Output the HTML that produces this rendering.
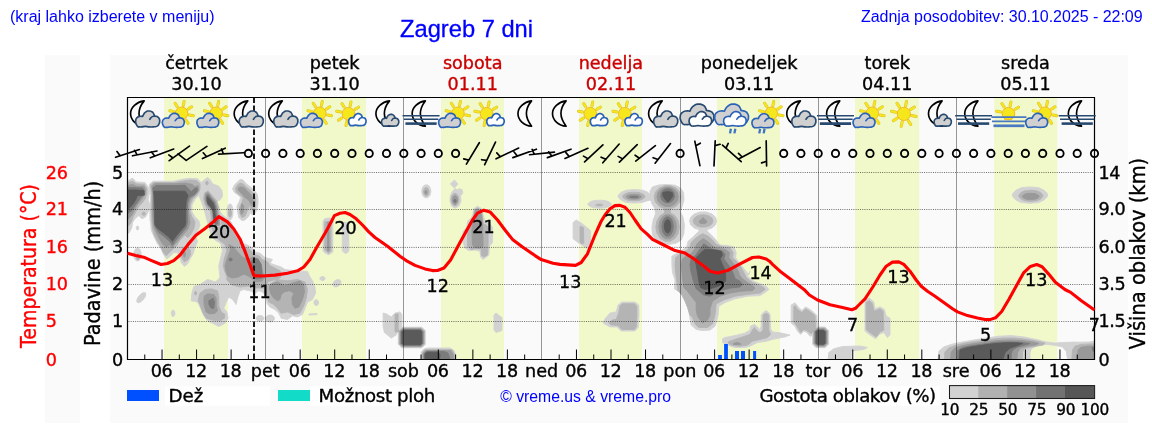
<!DOCTYPE html>
<html lang="sl"><head><meta charset="utf-8"><title>Zagreb 7 dni</title>
<style>
html,body{margin:0;padding:0;background:#fff;}
body{width:1152px;height:443px;position:relative;overflow:hidden;font-family:"Liberation Sans",Arial,sans-serif;}
.h{position:absolute;white-space:nowrap;color:#0000ff;line-height:1;}
</style></head><body>
<svg width="1152" height="443" viewBox="0 0 1152 443" style="position:absolute;left:0;top:0">
<rect x="45" y="55" width="35" height="368" fill="#fafafa"/>
<rect x="110" y="55" width="1018" height="368" fill="#fafafa"/>
<rect x="164" y="97.5" width="64" height="262.0" fill="#f1f8c9"/>
<rect x="302" y="97.5" width="64" height="262.0" fill="#f1f8c9"/>
<rect x="441" y="97.5" width="63" height="262.0" fill="#f1f8c9"/>
<rect x="579" y="97.5" width="63" height="262.0" fill="#f1f8c9"/>
<rect x="717" y="97.5" width="63" height="262.0" fill="#f1f8c9"/>
<rect x="855" y="97.5" width="64.20000000000005" height="262.0" fill="#f1f8c9"/>
<rect x="994.2" y="97.5" width="63.0" height="262.0" fill="#f1f8c9"/>
<clipPath id="pc"><rect x="127.5" y="97.5" width="967.0" height="262.0"/></clipPath>
<g id="clouds" clip-path="url(#pc)"><path d="M127.2 181.2L132.5 178.1L136.2 181.9L145.0 182.5L148.1 186.9L149.4 192.5L148.1 200.0L150.0 206.2L148.1 211.9L145.6 216.9L141.9 218.8L138.8 215.6L135.6 218.1L132.5 222.5L131.9 227.5L129.4 232.5L127.2 233.8ZM149.4 184.3L153.1 181.2L163.8 181.2L173.8 181.2L182.5 179.3L190.0 178.3L197.5 178.7L201.2 182.5L201.9 188.1L200.0 193.7L195.0 199.3L191.9 205.0L191.9 211.8L195.0 216.8L198.8 220.6L200.0 225.6L198.1 230.1L195.0 235.1L197.5 241.3L195.0 247.6L193.1 253.8L190.0 258.9L187.5 263.9L184.4 266.4L181.2 262.6L180.0 257.6L177.5 252.6L173.8 252.6L170.0 256.4L166.9 258.9L163.8 255.1L161.2 248.8L157.5 243.8L153.8 236.3L151.2 230.1L150.6 222.6L150.0 220.6L149.8 208.1L150.6 195.6L149.4 189.3ZM141.3 254.5L140.9 257.3L139.9 259.6L138.3 260.8L136.7 260.8L135.1 259.6L134.1 257.3L133.7 254.5L134.1 251.7L135.1 249.4L136.7 248.2L138.3 248.2L139.9 249.4L140.9 251.7ZM145.3 292.8L145.9 294.0L145.5 296.0L144.3 298.3L142.5 300.4L140.5 302.0L138.6 302.7L137.3 302.4L136.7 301.2L137.1 299.2L138.3 296.9L140.1 294.8L142.1 293.2L144.0 292.5ZM174.9 313.3L174.7 314.7L174.2 315.8L173.5 316.4L172.7 316.4L172.0 315.8L171.5 314.7L171.3 313.3L171.5 311.9L172.0 310.8L172.7 310.2L173.5 310.2L174.2 310.8L174.7 311.9ZM138.7 228.0L138.6 228.9L138.2 229.6L137.8 229.9L137.2 229.9L136.8 229.6L136.4 228.9L136.3 228.0L136.4 227.1L136.8 226.4L137.2 226.1L137.8 226.1L138.2 226.4L138.6 227.1ZM205.0 179.4L207.5 177.5L210.0 179.4L212.5 183.8L218.8 186.2L221.9 190.6L222.5 196.2L220.0 200.0L216.9 201.2L218.8 206.2L220.0 211.2L222.5 215.0L227.0 218.0L231.2 222.0L233.8 228.2L237.5 235.8L242.5 243.2L247.5 245.1L251.2 247.0L255.0 252.0L260.0 253.2L265.0 257.6L272.5 259.5L270.0 263.2L275.0 265.0L281.2 267.0L285.0 269.5L295.0 270.8L307.5 271.4L310.0 277.0L312.5 280.8L315.0 287.0L315.6 293.2L312.5 299.5L307.5 302.0L305.0 308.2L302.5 314.5L297.5 317.0L292.5 315.8L287.5 319.5L281.2 318.2L278.8 313.2L275.0 309.5L270.0 307.0L266.9 303.2L266.2 295.8L262.5 292.0L258.8 290.8L255.0 293.2L250.0 290.8L243.8 289.5L240.0 290.8L237.5 298.2L236.2 304.5L232.5 299.5L228.8 297.0L226.9 300.8L223.8 308.2L226.9 312.0L228.1 318.2L225.0 323.2L218.8 326.4L212.5 323.2L207.5 320.8L203.8 315.8L201.2 309.5L197.5 302.0L191.2 300.8L191.9 293.2L193.8 286.4L200.0 284.5L203.8 282.0L207.5 279.5L211.0 280.5L215.0 282.0L218.0 280.0L220.0 277.0L219.4 272.0L218.8 265.8L220.6 258.2L222.5 250.8L220.6 243.2L216.2 240.8L211.9 237.0L209.4 229.5L207.5 222.0L206.2 217.5L205.0 212.5L203.1 206.2L201.0 200.5L199.3 196.5L199.0 190.0L199.3 184.5L201.5 182.0ZM264.0 318.3L263.6 319.5L262.5 320.5L260.9 321.0L259.1 321.0L257.5 320.5L256.4 319.5L256.0 318.3L256.4 317.1L257.5 316.1L259.1 315.6L260.9 315.6L262.5 316.1L263.6 317.1ZM274.5 318.5L274.1 320.0L272.8 321.2L271.0 321.9L269.0 321.9L267.2 321.2L265.9 320.0L265.5 318.5L265.9 317.0L267.2 315.8L269.0 315.1L271.0 315.1L272.8 315.8L274.1 317.0ZM318.6 302.6L318.3 303.9L317.7 304.9L316.8 305.5L315.7 305.5L314.8 304.9L314.2 303.9L313.9 302.6L314.2 301.3L314.8 300.3L315.7 299.7L316.8 299.7L317.7 300.3L318.3 301.3ZM340.6 280.7L341.0 282.1L340.6 283.7L339.5 285.2L337.9 286.4L336.0 286.9L334.4 286.7L333.2 285.8L332.8 284.4L333.2 282.8L334.3 281.3L335.9 280.1L337.8 279.6L339.4 279.8ZM325.0 278.5L324.8 279.4L324.1 280.1L323.1 280.4L321.9 280.4L320.9 280.1L320.2 279.4L320.0 278.5L320.2 277.6L320.9 276.9L321.9 276.6L323.1 276.6L324.1 276.9L324.8 277.6ZM309.0 314.0L317.0 313.6L317.0 314.6L309.0 315.0ZM240.0 179.4L243.1 180.0L246.2 183.8L251.2 187.5L255.0 191.2L257.5 195.0L258.1 201.2L257.5 207.5L255.6 212.5L252.5 215.0L250.0 212.5L248.8 216.2L245.0 220.0L241.9 220.6L238.8 217.5L237.5 211.2L236.9 206.2L239.4 201.2L240.6 197.5L238.1 195.0L234.4 192.5L232.5 188.8L234.4 185.0L237.5 181.9ZM233.0 211.9L232.7 215.4L231.9 218.2L230.7 219.7L229.3 219.7L228.1 218.2L227.3 215.4L227.0 211.9L227.3 208.4L228.1 205.6L229.3 204.1L230.7 204.1L231.9 205.6L232.7 208.4ZM323.1 221.0L325.0 218.5L331.0 218.0L332.8 221.0L332.8 252.0L329.0 254.8L325.5 253.5L323.1 251.0ZM342.3 224.0L345.0 222.0L348.8 224.0L348.8 251.0L346.0 253.8L342.3 251.0ZM383.1 313.1L386.2 313.8L391.2 316.9L395.0 313.1L400.0 311.9L401.9 314.4L401.9 327.5L398.1 330.0L396.2 335.0L391.2 338.1L387.5 335.0L384.4 332.5L383.1 326.2ZM401.8 327.2L421.8 327.2L425.3 330.7L425.3 344.3L421.8 347.8L401.8 347.8L398.3 344.3L398.3 330.7ZM421.3 359.0L421.3 352.0L424.0 349.0L428.0 348.0L450.0 348.0L454.0 350.5L455.8 355.0L455.8 359.0ZM494.0 315.0L496.0 313.0L499.0 315.5L502.0 317.5L502.0 330.5L496.0 332.5L494.0 330.0ZM430.9 191.3L430.4 194.2L429.2 196.5L427.3 197.7L425.3 197.7L423.4 196.5L422.2 194.2L421.7 191.3L422.2 188.4L423.4 186.1L425.3 184.9L427.3 184.9L429.2 186.1L430.4 188.4ZM454.4 180.0L458.0 184.0L454.4 188.0L450.3 184.0ZM455.0 188.5L457.0 190.0L459.0 188.8L462.0 189.5L462.8 193.0L460.5 196.0L461.0 201.0L459.0 206.0L455.0 208.3L451.5 206.0L450.0 201.0L450.3 196.0L452.0 192.0ZM473.8 208.8L477.5 206.2L481.9 208.8L483.1 215.0L485.0 221.2L490.0 223.8L492.5 227.5L492.5 242.5L489.4 246.2L488.8 255.0L485.0 258.1L483.1 259.4L480.6 256.9L480.0 251.2L475.0 250.0L468.8 250.6L465.0 248.1L463.1 242.5L463.1 231.2L466.9 227.5L467.5 221.2L471.2 218.1L473.1 213.8ZM573.1 222.5L576.2 220.0L581.2 223.1L586.2 226.9L590.6 230.6L590.6 243.8L587.5 248.8L583.8 246.2L578.8 243.1L573.1 238.8ZM611.4 204.2L610.7 205.3L608.7 206.7L605.3 207.8L599.6 208.2L593.9 207.8L590.5 206.7L588.5 205.3L587.8 204.2L588.5 203.1L590.5 201.7L593.9 200.6L599.6 200.2L605.3 200.6L608.7 201.7L610.7 203.1ZM651.1 196.3L650.1 198.2L647.3 200.6L642.6 202.4L634.5 203.1L626.4 202.4L621.7 200.6L618.9 198.2L617.9 196.3L618.9 194.4L621.7 192.0L626.4 190.2L634.5 189.5L642.6 190.2L647.3 192.0L650.1 194.4ZM645.0 193.0L652.0 195.0L652.0 200.0L645.0 201.0ZM650.0 191.2L652.5 186.9L658.8 185.0L666.2 184.5L675.0 185.2L680.6 188.1L683.5 192.5L684.0 200.0L681.9 206.9L680.2 211.2L683.1 217.5L684.4 225.0L683.8 233.8L681.2 240.0L676.2 243.1L668.8 244.4L661.2 243.1L655.6 240.0L652.5 235.0L651.9 227.5L653.1 220.0L655.6 213.8L655.0 208.8L651.9 203.8L650.2 197.5ZM618.1 305.0L621.9 302.1L635.0 302.1L638.8 305.0L639.0 315.0L638.1 327.5L635.0 331.0L621.2 331.0L616.9 326.9L610.0 326.9L603.1 323.1L605.0 318.8L610.0 313.1L616.2 311.9ZM716.7 221.0L715.4 225.0L711.6 228.2L706.1 230.0L700.1 230.0L694.6 228.2L690.8 225.0L689.5 221.0L690.8 217.0L694.6 213.8L700.1 212.0L706.1 212.0L711.6 213.8L715.4 217.0ZM703.1 229.4L708.8 232.5L713.8 237.5L716.9 241.2L720.0 245.0L727.5 245.6L733.8 246.9L736.2 252.5L735.6 257.5L740.0 263.8L745.0 270.0L748.8 275.0L750.0 271.2L747.5 276.2L753.8 281.2L760.0 283.8L766.2 286.2L768.8 289.4L765.0 292.5L760.0 295.6L747.5 296.2L735.0 298.8L725.0 302.5L718.8 306.2L718.1 315.0L716.9 320.0L715.0 326.2L710.0 330.0L702.5 330.6L696.2 329.4L691.2 325.0L689.4 315.0L686.9 302.5L685.0 296.2L680.0 292.5L674.4 288.8L675.0 280.0L672.5 272.5L671.9 265.0L671.9 256.2L676.2 253.8L682.5 250.0L686.9 246.9L688.1 241.2L692.5 237.5L697.5 232.5ZM700.0 228.0L706.0 228.0L708.0 233.0L698.0 233.0ZM722.5 338.8L725.0 337.5L735.0 335.6L745.0 333.1L750.0 330.0L750.6 326.2L754.4 324.4L757.5 326.9L760.0 330.0L761.2 326.2L761.2 315.0L763.8 311.9L766.2 310.6L770.0 313.8L770.6 328.8L772.5 331.9L780.0 332.8L790.0 335.0L785.0 336.9L775.0 338.8L766.2 341.2L757.5 342.5L750.0 346.2L745.0 347.5L735.0 347.5L727.5 345.0L722.5 342.5ZM791.2 305.0L795.0 302.8L798.8 307.5L801.9 310.6L805.6 306.9L810.0 309.4L813.8 312.5L816.9 315.6L817.5 327.5L816.2 332.5L813.8 335.0L810.0 336.2L806.9 332.5L803.8 331.2L800.6 334.4L797.5 331.2L795.0 326.2L791.2 323.1ZM816.1 327.0L825.1 327.0L828.6 330.5L828.6 344.2L825.1 347.7L816.1 347.7L812.6 344.2L812.6 330.5ZM865.0 300.6L869.4 298.1L873.8 301.9L875.0 308.8L880.0 306.9L884.4 309.4L886.2 316.2L890.0 318.1L890.0 335.0L887.5 337.5L883.8 332.5L880.0 333.8L875.6 338.8L870.0 335.0L865.0 331.2ZM828.1 359.0L828.8 352.5L833.8 348.8L842.5 346.5L860.0 346.0L867.5 347.5L863.8 349.4L855.0 350.6L851.2 351.2L851.2 359.0ZM1047.8 195.1L1046.8 197.3L1043.7 200.2L1038.7 202.5L1030.0 203.3L1021.3 202.5L1016.3 200.2L1013.2 197.3L1012.2 195.1L1013.2 192.9L1016.3 190.0L1021.3 187.7L1030.0 186.9L1038.7 187.7L1043.7 190.0L1046.8 192.9ZM938.1 359.0L938.8 351.2L943.8 346.9L951.2 344.4L961.2 342.2L973.8 340.0L986.2 338.1L998.8 336.2L1011.2 335.6L1023.8 336.9L1036.2 339.4L1046.2 341.9L1055.0 343.1L1062.5 342.5L1074.0 342.1L1080.0 342.2L1090.0 341.9L1094.4 341.0L1094.4 359.0L1067.5 359.0L1066.2 351.2L1062.5 346.9L1056.2 345.6L1047.5 344.4L1037.5 345.6L1031.2 348.8L1030.0 352.5L1030.0 359.0Z" fill="#d2d2d2" stroke="#d2d2d2" stroke-width="0.9" stroke-linejoin="round"/>
<path d="M127.2 183.1L132.5 181.2L136.2 183.8L144.4 184.4L146.9 188.8L146.9 193.8L145.0 198.8L142.5 202.5L138.8 206.2L136.2 211.2L133.1 216.9L131.2 222.5L127.2 226.9ZM145.3 213.8L145.2 214.4L144.7 215.0L144.1 215.3L143.4 215.3L142.8 215.0L142.3 214.4L142.2 213.8L142.3 213.1L142.8 212.5L143.4 212.2L144.1 212.2L144.7 212.5L145.2 213.1ZM150.6 185.0L153.8 182.5L173.8 182.5L182.5 181.2L190.0 180.0L196.2 180.6L200.0 183.7L200.0 189.3L197.5 194.3L192.5 199.3L190.2 205.0L190.0 211.8L191.9 216.8L195.0 221.8L195.0 222.6L193.8 228.8L191.2 233.8L188.1 237.6L185.0 235.1L180.0 240.1L176.2 246.3L172.5 249.5L168.1 253.8L166.2 255.7L163.1 252.0L160.6 246.3L157.5 241.3L154.4 235.1L152.5 228.8L151.9 222.6L151.2 208.1L151.5 195.6ZM182.5 248.2L186.2 247.0L190.0 249.5L190.6 254.5L188.1 259.5L184.4 262.0L181.9 258.2L181.2 253.2ZM139.6 257.0L139.4 258.3L139.0 259.3L138.4 259.9L137.6 259.9L137.0 259.3L136.6 258.3L136.4 257.0L136.6 255.7L137.0 254.7L137.6 254.1L138.4 254.1L139.0 254.7L139.4 255.7ZM204.5 193.0L208.1 190.8L212.5 196.0L216.5 200.5L218.3 207.5L219.0 213.8L221.0 220.0L222.0 226.0L216.0 228.0L211.8 223.0L211.0 216.5L210.4 211.0L207.5 208.8L205.0 204.5L203.6 198.8ZM208.2 183.1L208.1 183.9L207.7 184.5L207.2 184.9L206.6 184.9L206.1 184.5L205.7 183.9L205.6 183.1L205.7 182.3L206.1 181.7L206.6 181.3L207.2 181.3L207.7 181.7L208.1 182.3ZM209.4 222.0L212.5 229.5L215.0 235.8L220.0 240.8L225.0 244.5L226.9 250.8L224.4 258.2L223.1 265.8L225.0 272.0L226.9 277.0L226.9 280.0L232.0 285.0L240.0 287.0L248.0 286.0L255.0 288.0L265.0 288.0L272.0 283.0L281.0 277.0L280.0 270.8L275.0 268.2L270.0 265.8L267.5 262.0L262.5 259.5L258.8 255.8L253.8 254.5L250.0 249.5L245.0 247.0L240.0 243.2L235.0 235.8L231.2 228.2L228.8 222.0L222.0 217.0L215.0 216.0ZM267.5 282.0L275.0 279.5L287.5 280.8L297.5 279.5L305.0 282.0L307.5 289.5L306.2 298.2L303.8 305.8L300.0 313.2L293.8 314.5L287.5 312.0L281.2 313.2L277.5 308.2L273.8 304.5L268.8 302.0L266.9 295.8L266.2 288.2ZM200.0 293.2L205.0 289.5L211.2 288.9L217.5 290.8L218.8 297.0L218.8 305.8L221.2 312.0L225.0 314.5L224.4 318.2L220.0 320.8L212.5 320.1L206.2 318.2L202.5 312.0L200.0 304.5L198.1 300.8ZM196.6 293.2L196.5 294.0L196.2 294.7L195.8 295.0L195.4 295.0L195.0 294.7L194.7 294.0L194.6 293.2L194.7 292.5L195.0 291.8L195.4 291.5L195.8 291.5L196.2 291.8L196.5 292.5ZM240.0 183.1L243.1 183.8L246.2 186.9L250.6 190.6L253.8 194.4L255.6 198.8L255.6 206.2L253.1 211.2L250.6 208.8L249.4 205.0L247.5 210.0L245.0 216.2L241.9 217.5L240.0 213.8L239.4 207.5L241.9 202.5L243.1 198.1L240.0 195.0L236.2 191.9L235.6 188.1L237.5 185.0ZM231.4 213.0L231.3 214.7L230.9 216.1L230.3 216.9L229.7 216.9L229.1 216.1L228.7 214.7L228.6 213.0L228.7 211.3L229.1 209.9L229.7 209.1L230.3 209.1L230.9 209.9L231.3 211.3ZM324.8 222.0L331.0 221.0L331.0 251.0L328.5 253.0L324.8 250.0ZM395.0 314.4L398.1 313.8L398.1 328.8L400.0 331.9L395.0 331.9ZM402.2 328.0L421.4 328.0L424.4 331.0L424.4 344.0L421.4 347.0L402.2 347.0L399.2 344.0L399.2 331.0ZM422.3 359.0L422.3 352.5L425.0 349.8L452.0 349.8L454.5 354.0L454.8 359.0ZM447.1 356.5L446.6 357.3L446.0 357.9L445.3 358.1L444.9 357.8L444.6 357.2L444.6 356.4L444.9 355.5L445.4 354.7L446.0 354.1L446.7 353.9L447.1 354.2L447.4 354.8L447.4 355.6ZM428.9 191.8L428.6 193.6L427.9 195.1L426.8 195.9L425.6 195.9L424.5 195.1L423.8 193.6L423.5 191.8L423.8 190.0L424.5 188.5L425.6 187.7L426.8 187.7L427.9 188.5L428.6 190.0ZM458.9 199.6L458.5 202.3L457.4 204.5L455.9 205.7L454.1 205.7L452.6 204.5L451.5 202.3L451.1 199.6L451.5 196.9L452.6 194.7L454.1 193.5L455.9 193.5L457.4 194.7L458.5 196.9ZM474.4 210.0L477.5 208.1L481.2 210.0L482.2 215.0L483.1 223.8L486.2 225.0L488.1 227.5L488.1 242.5L487.5 255.0L483.8 256.9L481.2 255.0L481.2 248.8L476.2 248.8L471.2 249.4L467.5 246.2L467.5 230.0L468.8 223.8L472.5 219.4L473.8 215.0ZM580.0 226.2L583.5 227.5L583.8 243.1L581.9 244.0L580.0 241.9ZM602.8 205.0L602.6 205.2L602.0 205.6L601.0 205.8L599.2 205.9L597.4 205.8L596.4 205.6L595.8 205.2L595.6 205.0L595.8 204.8L596.4 204.4L597.4 204.2L599.2 204.1L601.0 204.2L602.0 204.4L602.6 204.8ZM645.0 196.5L644.4 197.7L642.4 199.2L639.2 200.4L633.8 200.8L628.4 200.4L625.2 199.2L623.2 197.7L622.6 196.5L623.2 195.3L625.2 193.8L628.4 192.6L633.8 192.2L639.2 192.6L642.4 193.8L644.4 195.3ZM681.0 197.2L679.7 202.3L676.0 206.4L670.6 208.7L664.6 208.7L659.2 206.4L655.5 202.3L654.2 197.2L655.5 192.1L659.2 188.0L664.6 185.7L670.6 185.7L676.0 188.0L679.7 192.1ZM679.4 227.0L678.2 233.3L675.0 238.4L670.2 241.2L665.0 241.2L660.2 238.4L657.0 233.3L655.8 227.0L657.0 220.7L660.2 215.6L665.0 212.8L670.2 212.8L675.0 215.6L678.2 220.7ZM664.0 207.0L671.0 207.0L670.0 215.0L665.0 215.0ZM620.0 305.6L622.5 303.8L634.4 303.8L636.9 306.2L636.9 315.0L636.2 326.9L634.4 329.4L621.9 329.4L618.1 325.6L611.2 324.8L608.8 322.8L612.5 320.0L616.2 319.4L618.8 312.5ZM713.1 221.0L712.1 223.7L709.3 225.9L705.3 227.1L700.9 227.1L696.9 225.9L694.1 223.7L693.1 221.0L694.1 218.3L696.9 216.1L700.9 214.9L705.3 214.9L709.3 216.1L712.1 218.3ZM703.1 233.8L708.1 236.2L712.5 240.0L716.2 244.4L722.5 246.9L730.0 248.1L733.1 252.5L732.5 257.5L736.9 261.9L741.2 267.5L743.8 272.5L745.0 275.0L746.2 277.5L752.5 282.5L758.8 285.0L763.8 287.5L765.0 289.4L760.0 293.1L747.5 294.4L735.0 296.2L723.8 300.0L716.2 303.8L715.0 315.0L714.4 317.5L712.5 323.8L707.5 327.5L698.8 327.5L695.0 323.8L692.5 317.5L690.0 315.0L687.5 307.5L685.0 301.2L681.9 295.0L677.5 290.0L676.9 281.2L675.6 272.5L675.0 265.0L675.6 257.5L680.0 253.8L686.2 251.2L690.0 246.9L691.2 242.5L695.0 238.8L700.0 235.0ZM728.1 341.9L735.0 339.4L742.5 336.9L750.0 334.4L752.5 330.0L754.4 327.5L756.2 330.0L760.0 333.1L763.1 330.0L763.1 315.0L766.2 313.1L768.8 315.0L768.8 330.0L770.6 334.4L767.5 337.5L760.0 339.4L752.5 341.2L747.5 345.0L740.0 346.2L732.5 345.6L728.8 343.8ZM793.8 306.9L795.0 305.6L797.5 309.4L801.9 312.5L805.6 308.8L809.4 311.2L815.0 315.6L815.6 328.8L811.2 333.8L806.9 330.6L803.8 329.4L800.6 332.5L798.8 329.4L796.2 325.0L793.8 321.9ZM816.5 327.9L824.7 327.9L827.7 330.9L827.7 343.8L824.7 346.8L816.5 346.8L813.5 343.8L813.5 330.9ZM866.2 302.5L869.4 300.6L872.5 303.8L873.8 311.2L880.0 308.8L883.1 311.2L883.8 330.0L880.0 331.9L876.2 336.9L870.6 333.1L866.2 329.4ZM1043.0 195.8L1042.3 197.3L1040.2 199.3L1036.7 200.8L1030.8 201.4L1024.9 200.8L1021.4 199.3L1019.3 197.3L1018.6 195.8L1019.3 194.3L1021.4 192.3L1024.9 190.8L1030.8 190.2L1036.7 190.8L1040.2 192.3L1042.3 194.3ZM944.4 359.0L945.0 351.9L948.8 348.1L955.0 345.6L965.0 343.1L977.5 341.2L990.0 339.4L1002.5 338.1L1015.0 338.1L1027.5 339.4L1037.5 341.2L1045.0 343.1L1042.5 345.0L1036.2 346.2L1028.8 347.5L1023.8 348.8L1022.5 352.5L1022.5 359.0ZM1071.9 359.0L1072.5 350.0L1075.0 346.2L1081.2 344.4L1094.4 343.8L1094.4 359.0Z" fill="#b4b4b4" stroke="#b4b4b4" stroke-width="0.9" stroke-linejoin="round"/>
<path d="M127.2 185.6L132.5 184.4L136.2 186.2L143.8 186.2L145.6 190.0L145.0 194.4L142.5 198.1L140.0 201.2L136.9 205.0L134.4 210.0L131.9 215.0L127.2 220.0ZM151.9 186.2L155.0 183.7L173.8 183.7L185.0 183.1L191.9 184.3L195.0 186.8L198.1 185.6L198.8 190.6L195.0 195.0L190.6 198.7L188.8 204.3L188.5 211.8L189.4 218.1L190.0 222.6L188.1 228.8L185.0 232.6L181.2 236.3L177.5 241.3L173.8 245.1L172.5 247.6L169.4 245.1L166.2 247.6L162.5 243.8L158.8 237.6L155.6 231.3L153.5 226.3L153.1 222.6L152.5 208.1L152.8 195.6ZM183.5 252.0L185.0 251.4L185.5 254.5L184.5 257.6L183.5 255.8ZM205.6 193.8L208.1 192.5L211.2 196.9L215.0 201.2L216.9 207.5L217.5 213.8L219.4 220.0L220.0 225.0L216.2 226.2L213.1 222.5L212.5 216.2L211.9 210.0L208.8 207.5L206.2 203.8L205.0 198.8ZM228.8 244.5L230.6 249.5L226.9 259.5L225.0 265.8L226.2 272.0L228.0 276.0L232.0 278.0L238.0 277.0L244.0 274.0L250.0 277.0L256.0 282.0L262.0 281.0L265.0 277.0L262.5 272.0L261.2 264.5L257.5 259.5L252.5 257.0L247.5 259.5L242.5 257.0L237.5 252.0L233.8 247.0ZM270.0 284.5L277.5 282.0L285.0 285.8L292.5 283.2L300.0 280.8L303.8 284.5L304.4 292.0L302.5 299.5L298.8 307.0L295.0 308.2L292.5 304.5L291.9 298.2L293.8 293.2L290.0 290.8L285.0 291.4L281.2 294.5L280.0 299.5L277.5 300.8L273.8 298.2L270.6 293.2L269.4 288.2ZM204.4 295.8L207.5 293.9L213.8 294.5L216.2 298.2L216.2 305.8L217.5 310.8L215.0 313.2L210.0 313.9L206.2 312.0L204.4 305.8L203.8 300.8ZM240.0 186.9L243.8 187.5L247.5 191.2L251.2 195.0L253.1 200.0L252.5 206.2L250.6 203.8L248.8 200.0L245.0 197.5L241.9 193.8L238.8 190.6L238.1 188.1ZM241.9 203.8L243.8 206.2L243.1 212.5L241.2 214.4L240.6 210.0ZM327.6 222.0L329.0 222.0L329.0 251.0L327.6 251.0ZM402.6 328.8L421.0 328.8L423.5 331.3L423.5 343.7L421.0 346.2L402.6 346.2L400.1 343.7L400.1 331.3ZM423.3 359.0L423.3 353.0L426.0 350.6L450.5 350.6L453.0 354.0L453.5 359.0ZM427.1 192.3L427.0 193.1L426.7 193.7L426.2 194.1L425.8 194.1L425.3 193.7L425.0 193.1L424.9 192.3L425.0 191.5L425.3 190.9L425.8 190.5L426.2 190.5L426.7 190.9L427.0 191.5ZM457.6 200.0L457.3 201.9L456.6 203.4L455.6 204.3L454.4 204.3L453.4 203.4L452.7 201.9L452.4 200.0L452.7 198.1L453.4 196.6L454.4 195.7L455.6 195.7L456.6 196.6L457.3 198.1ZM475.0 211.2L477.5 209.4L480.6 211.2L481.9 217.5L482.5 223.8L483.1 246.2L480.0 248.1L475.0 247.5L472.5 245.0L471.9 230.0L472.5 223.8L474.0 217.5ZM641.4 196.8L641.0 197.5L639.7 198.3L637.5 199.0L633.8 199.2L630.1 199.0L627.9 198.3L626.6 197.5L626.2 196.8L626.6 196.1L627.9 195.3L630.1 194.6L633.8 194.4L637.5 194.6L639.7 195.3L641.0 196.1ZM678.2 196.8L677.2 201.1L674.2 204.5L670.0 206.4L665.2 206.4L661.0 204.5L658.0 201.1L657.0 196.8L658.0 192.5L661.0 189.1L665.2 187.2L670.0 187.2L674.2 189.1L677.2 192.5ZM676.4 226.8L675.5 232.1L673.1 236.4L669.6 238.8L665.6 238.8L662.1 236.4L659.7 232.1L658.8 226.8L659.7 221.5L662.1 217.2L665.6 214.8L669.6 214.8L673.1 217.2L675.5 221.5ZM703.0 217.6L707.0 221.5L705.5 223.6L700.5 223.6L699.0 221.5ZM703.1 238.8L707.5 241.2L711.2 245.0L716.2 248.1L725.0 249.4L729.4 252.5L728.8 257.5L732.5 262.5L736.2 267.5L738.8 272.5L739.4 275.0L742.5 278.8L747.5 282.5L752.5 285.6L755.0 288.1L752.5 290.6L741.2 291.2L730.0 293.1L720.0 296.2L712.5 301.2L710.0 308.8L710.0 315.0L707.5 320.0L702.5 323.1L697.5 316.2L696.2 310.0L696.2 302.5L691.2 296.2L687.5 291.2L683.8 287.5L682.5 277.5L681.2 265.0L682.5 258.8L686.2 256.2L691.2 253.8L695.0 248.8L696.2 245.0L698.8 241.9ZM733.5 343.5L736.9 342.5L740.6 343.5L740.6 344.5L733.5 344.5ZM816.9 328.8L824.3 328.8L826.8 331.3L826.8 343.4L824.3 345.9L816.9 345.9L814.4 343.4L814.4 331.3ZM1039.2 196.4L1038.7 197.2L1037.3 198.3L1034.9 199.2L1030.8 199.5L1026.7 199.2L1024.3 198.3L1022.9 197.2L1022.4 196.4L1022.9 195.6L1024.3 194.5L1026.7 193.6L1030.8 193.3L1034.9 193.6L1037.3 194.5L1038.7 195.6ZM950.6 359.0L951.2 351.9L955.0 348.1L962.5 345.6L972.5 343.8L985.0 341.9L997.5 340.6L1010.0 340.0L1022.5 340.6L1032.5 341.9L1038.8 343.5L1035.0 345.0L1027.5 346.2L1020.0 348.1L1017.5 352.5L1016.9 359.0ZM1077.5 359.0L1078.1 350.0L1081.2 347.2L1087.5 346.2L1094.4 346.0L1094.4 359.0Z" fill="#999999" stroke="#999999" stroke-width="0.9" stroke-linejoin="round"/>
<path d="M127.2 187.5L132.5 187.5L142.5 188.1L144.4 191.2L143.1 195.0L140.0 198.1L137.5 201.9L134.4 206.2L131.9 210.6L127.2 213.8ZM152.8 188.1L156.2 185.6L173.8 185.6L185.0 185.3L188.8 189.3L191.2 191.8L195.0 188.1L197.5 188.1L196.9 191.8L193.8 195.0L189.4 197.5L187.5 203.1L187.2 211.8L187.5 222.6L186.2 227.6L183.1 231.3L178.8 236.3L175.0 241.3L172.5 245.1L169.4 241.3L163.8 236.3L158.8 232.6L155.6 227.6L154.4 222.6L153.8 208.1L153.8 195.6ZM206.6 195.5L208.5 194.8L211.0 198.4L214.2 202.5L215.8 207.5L216.3 213.8L217.8 220.0L217.5 224.0L215.5 224.5L213.8 220.0L213.2 213.0L212.4 208.5L209.4 206.0L207.2 202.5L206.2 198.8ZM232.3 259.5L232.1 260.1L231.7 260.6L231.0 260.9L230.2 260.9L229.5 260.6L229.1 260.1L228.9 259.5L229.1 258.9L229.5 258.4L230.2 258.1L231.0 258.1L231.7 258.4L232.1 258.9ZM254.0 258.0L258.0 259.0L261.0 264.0L262.0 272.0L262.0 278.0L256.0 279.0L252.0 275.0L250.0 268.0L251.0 262.0ZM208.8 300.8L213.1 298.2L214.4 302.0L213.8 308.2L211.2 308.2L209.0 304.5ZM403.0 329.6L420.6 329.6L422.6 331.6L422.6 343.4L420.6 345.4L403.0 345.4L401.0 343.4L401.0 331.6ZM424.2 359.0L424.2 353.5L426.5 351.4L444.0 351.4L448.0 353.0L450.0 359.0ZM456.1 200.8L456.0 201.5L455.7 202.1L455.2 202.4L454.8 202.4L454.3 202.1L454.0 201.5L453.9 200.8L454.0 200.1L454.3 199.5L454.8 199.2L455.2 199.2L455.7 199.5L456.0 200.1ZM638.3 197.0L638.1 197.2L637.3 197.5L636.1 197.7L634.0 197.8L631.9 197.7L630.7 197.5L629.9 197.2L629.7 197.0L629.9 196.8L630.7 196.5L631.9 196.3L634.0 196.2L636.1 196.3L637.3 196.5L638.1 196.8ZM674.6 195.8L673.9 198.9L672.0 201.4L669.2 202.8L666.0 202.8L663.2 201.4L661.3 198.9L660.6 195.8L661.3 192.7L663.2 190.2L666.0 188.8L669.2 188.8L672.0 190.2L673.9 192.7ZM673.3 226.5L672.7 230.8L671.2 234.2L668.9 236.1L666.3 236.1L664.0 234.2L662.5 230.8L661.9 226.5L662.5 222.2L664.0 218.8L666.3 216.9L668.9 216.9L671.2 218.8L672.7 222.2ZM703.8 243.8L710.0 248.1L716.2 250.6L722.5 251.2L725.0 254.4L723.8 258.8L727.5 263.8L731.2 268.8L733.8 275.0L735.0 278.8L740.0 281.2L742.5 284.4L740.0 286.9L730.0 288.1L722.5 290.0L715.0 293.8L710.0 296.2L703.8 295.0L700.0 291.9L696.2 288.8L693.8 282.5L691.2 272.5L690.0 265.0L691.2 258.8L695.0 256.2L697.5 252.5L701.2 247.5ZM817.3 329.7L823.9 329.7L825.9 331.7L825.9 343.0L823.9 345.0L817.3 345.0L815.3 343.0L815.3 331.7ZM956.9 359.0L957.5 350.6L962.5 347.5L972.5 345.6L985.0 343.8L997.5 342.2L1010.0 341.9L1020.0 342.2L1030.0 343.5L1025.0 345.0L1017.5 346.9L1012.5 350.0L1011.2 353.8L1011.2 359.0ZM1092.2 347.5L1094.4 347.2L1094.4 351.5L1092.8 351.0Z" fill="#7b7b7b" stroke="#7b7b7b" stroke-width="0.9" stroke-linejoin="round"/>
<path d="M127.2 190.0L135.0 190.0L143.8 190.6L144.4 195.0L140.0 195.6L137.5 195.0L135.6 200.0L133.1 203.8L130.0 207.5L127.2 209.4ZM153.8 191.2L173.8 191.2L185.0 191.2L188.1 195.6L186.2 200.6L185.6 208.1L185.6 222.6L185.0 225.7L181.2 230.1L176.9 235.1L173.1 240.1L172.5 241.3L168.8 237.0L162.5 232.0L157.5 228.2L155.0 225.1L154.8 222.6L154.8 208.1ZM207.5 196.9L210.0 199.4L213.1 203.1L214.4 207.5L215.0 213.8L216.2 220.0L215.0 222.5L213.8 217.5L213.1 211.2L210.6 206.9L208.1 204.4L207.1 200.0ZM403.0 330.5L420.6 330.5L421.6 331.5L421.6 343.6L420.6 344.6L403.0 344.6L402.0 343.6L402.0 331.5ZM425.0 359.0L425.0 354.0L427.0 352.2L438.5 352.2L440.0 355.0L439.5 359.0ZM662.8 192.5L667.5 191.5L672.2 192.5L672.8 196.2L670.0 200.0L667.8 202.2L665.6 200.0L663.1 196.2ZM670.8 226.3L670.5 229.3L669.6 231.6L668.3 232.9L666.9 232.9L665.6 231.6L664.7 229.3L664.4 226.3L664.7 223.3L665.6 221.0L666.9 219.7L668.3 219.7L669.6 221.0L670.5 223.3ZM705.0 249.4L716.2 250.0L721.2 251.2L722.5 255.0L720.0 258.8L722.5 265.0L725.0 270.0L725.6 275.0L725.6 281.2L720.0 285.6L712.5 288.1L705.0 289.4L700.6 287.5L698.8 281.2L697.5 272.5L696.2 265.0L695.0 260.0L697.5 256.2L702.5 251.2ZM817.2 330.6L824.0 330.6L825.0 331.6L825.0 343.2L824.0 344.2L817.2 344.2L816.2 343.2L816.2 331.6ZM959.4 359.0L960.0 350.0L967.5 347.5L980.0 345.6L992.5 343.8L1005.0 342.8L1017.5 342.8L1022.5 343.5L1017.5 345.6L1010.0 348.1L1005.0 352.5L1003.1 359.0Z" fill="#5a5a5a" stroke="#5a5a5a" stroke-width="0.9" stroke-linejoin="round"/></g>
<line x1="128.5" x2="1093.0" y1="172.5" y2="172.5" stroke="#000" stroke-opacity="0.56" stroke-width="1" stroke-dasharray="1 1.21"/>
<line x1="128.5" x2="1093.0" y1="209.5" y2="209.5" stroke="#000" stroke-opacity="0.56" stroke-width="1" stroke-dasharray="1 1.21"/>
<line x1="128.5" x2="1093.0" y1="247.4" y2="247.4" stroke="#000" stroke-opacity="0.56" stroke-width="1" stroke-dasharray="1 1.21"/>
<line x1="128.5" x2="1093.0" y1="284.5" y2="284.5" stroke="#000" stroke-opacity="0.56" stroke-width="1" stroke-dasharray="1 1.21"/>
<line x1="128.5" x2="1093.0" y1="321.5" y2="321.5" stroke="#000" stroke-opacity="0.56" stroke-width="1" stroke-dasharray="1 1.21"/>
<line x1="265.5" x2="265.5" y1="97.5" y2="359.5" stroke="#000" stroke-opacity="0.4" stroke-width="1"/>
<line x1="403.5" x2="403.5" y1="97.5" y2="359.5" stroke="#000" stroke-opacity="0.4" stroke-width="1"/>
<line x1="541.5" x2="541.5" y1="97.5" y2="359.5" stroke="#000" stroke-opacity="0.4" stroke-width="1"/>
<line x1="680.5" x2="680.5" y1="97.5" y2="359.5" stroke="#000" stroke-opacity="0.4" stroke-width="1"/>
<line x1="818.5" x2="818.5" y1="97.5" y2="359.5" stroke="#000" stroke-opacity="0.4" stroke-width="1"/>
<line x1="956.5" x2="956.5" y1="97.5" y2="359.5" stroke="#000" stroke-opacity="0.4" stroke-width="1"/>
<line x1="254" x2="254" y1="97.5" y2="359.5" stroke="#111" stroke-width="1.9" stroke-dasharray="5.5 2.5" stroke-dashoffset="0"/>
<g id="rain"><rect x="718.1" y="355" width="3.8" height="4" fill="#0050ff"/>
<rect x="724.1" y="344" width="3.8" height="15" fill="#0050ff"/>
<rect x="735" y="351" width="4" height="8" fill="#0050ff"/>
<rect x="741" y="351" width="4" height="8" fill="#0050ff"/>
<rect x="753.1" y="351" width="3" height="8" fill="#0050ff"/></g>
<line x1="144.77" x2="144.77" y1="359.5" y2="354.5" stroke="#000" stroke-width="1"/>
<line x1="162.04" x2="162.04" y1="359.5" y2="349.5" stroke="#000" stroke-width="1"/>
<line x1="179.30" x2="179.30" y1="359.5" y2="354.5" stroke="#000" stroke-width="1"/>
<line x1="196.57" x2="196.57" y1="359.5" y2="349.5" stroke="#000" stroke-width="1"/>
<line x1="213.84" x2="213.84" y1="359.5" y2="354.5" stroke="#000" stroke-width="1"/>
<line x1="231.11" x2="231.11" y1="359.5" y2="349.5" stroke="#000" stroke-width="1"/>
<line x1="248.38" x2="248.38" y1="359.5" y2="354.5" stroke="#000" stroke-width="1"/>
<line x1="282.91" x2="282.91" y1="359.5" y2="354.5" stroke="#000" stroke-width="1"/>
<line x1="300.18" x2="300.18" y1="359.5" y2="349.5" stroke="#000" stroke-width="1"/>
<line x1="317.45" x2="317.45" y1="359.5" y2="354.5" stroke="#000" stroke-width="1"/>
<line x1="334.71" x2="334.71" y1="359.5" y2="349.5" stroke="#000" stroke-width="1"/>
<line x1="351.98" x2="351.98" y1="359.5" y2="354.5" stroke="#000" stroke-width="1"/>
<line x1="369.25" x2="369.25" y1="359.5" y2="349.5" stroke="#000" stroke-width="1"/>
<line x1="386.52" x2="386.52" y1="359.5" y2="354.5" stroke="#000" stroke-width="1"/>
<line x1="421.05" x2="421.05" y1="359.5" y2="354.5" stroke="#000" stroke-width="1"/>
<line x1="438.32" x2="438.32" y1="359.5" y2="349.5" stroke="#000" stroke-width="1"/>
<line x1="455.59" x2="455.59" y1="359.5" y2="354.5" stroke="#000" stroke-width="1"/>
<line x1="472.86" x2="472.86" y1="359.5" y2="349.5" stroke="#000" stroke-width="1"/>
<line x1="490.12" x2="490.12" y1="359.5" y2="354.5" stroke="#000" stroke-width="1"/>
<line x1="507.39" x2="507.39" y1="359.5" y2="349.5" stroke="#000" stroke-width="1"/>
<line x1="524.66" x2="524.66" y1="359.5" y2="354.5" stroke="#000" stroke-width="1"/>
<line x1="559.20" x2="559.20" y1="359.5" y2="354.5" stroke="#000" stroke-width="1"/>
<line x1="576.46" x2="576.46" y1="359.5" y2="349.5" stroke="#000" stroke-width="1"/>
<line x1="593.73" x2="593.73" y1="359.5" y2="354.5" stroke="#000" stroke-width="1"/>
<line x1="611.00" x2="611.00" y1="359.5" y2="349.5" stroke="#000" stroke-width="1"/>
<line x1="628.27" x2="628.27" y1="359.5" y2="354.5" stroke="#000" stroke-width="1"/>
<line x1="645.54" x2="645.54" y1="359.5" y2="349.5" stroke="#000" stroke-width="1"/>
<line x1="662.80" x2="662.80" y1="359.5" y2="354.5" stroke="#000" stroke-width="1"/>
<line x1="697.34" x2="697.34" y1="359.5" y2="354.5" stroke="#000" stroke-width="1"/>
<line x1="714.61" x2="714.61" y1="359.5" y2="349.5" stroke="#000" stroke-width="1"/>
<line x1="731.88" x2="731.88" y1="359.5" y2="354.5" stroke="#000" stroke-width="1"/>
<line x1="749.14" x2="749.14" y1="359.5" y2="349.5" stroke="#000" stroke-width="1"/>
<line x1="766.41" x2="766.41" y1="359.5" y2="354.5" stroke="#000" stroke-width="1"/>
<line x1="783.68" x2="783.68" y1="359.5" y2="349.5" stroke="#000" stroke-width="1"/>
<line x1="800.95" x2="800.95" y1="359.5" y2="354.5" stroke="#000" stroke-width="1"/>
<line x1="835.48" x2="835.48" y1="359.5" y2="354.5" stroke="#000" stroke-width="1"/>
<line x1="852.75" x2="852.75" y1="359.5" y2="349.5" stroke="#000" stroke-width="1"/>
<line x1="870.02" x2="870.02" y1="359.5" y2="354.5" stroke="#000" stroke-width="1"/>
<line x1="887.29" x2="887.29" y1="359.5" y2="349.5" stroke="#000" stroke-width="1"/>
<line x1="904.55" x2="904.55" y1="359.5" y2="354.5" stroke="#000" stroke-width="1"/>
<line x1="921.82" x2="921.82" y1="359.5" y2="349.5" stroke="#000" stroke-width="1"/>
<line x1="939.09" x2="939.09" y1="359.5" y2="354.5" stroke="#000" stroke-width="1"/>
<line x1="973.62" x2="973.62" y1="359.5" y2="354.5" stroke="#000" stroke-width="1"/>
<line x1="990.89" x2="990.89" y1="359.5" y2="349.5" stroke="#000" stroke-width="1"/>
<line x1="1008.16" x2="1008.16" y1="359.5" y2="354.5" stroke="#000" stroke-width="1"/>
<line x1="1025.43" x2="1025.43" y1="359.5" y2="349.5" stroke="#000" stroke-width="1"/>
<line x1="1042.70" x2="1042.70" y1="359.5" y2="354.5" stroke="#000" stroke-width="1"/>
<line x1="1059.96" x2="1059.96" y1="359.5" y2="349.5" stroke="#000" stroke-width="1"/>
<line x1="1077.23" x2="1077.23" y1="359.5" y2="354.5" stroke="#000" stroke-width="1"/>
<path d="M127.5 359.5 V97.5 H1094.5 V359.5 Z" fill="none" stroke="#000" stroke-width="1.2"/>
<g id="temp"><path d="M127.5 253.3 L135.8 255.6 L143.7 257.2 L151.6 260.6 L161.1 264.5 L167.4 263.5 L173.7 260.6 L180.1 255.0 L188.0 244.6 L195.9 235.2 L205.4 228.2 L213.3 221.9 L218.8 216.6 L227.5 221.9 L233.8 229.0 L240.1 239.2 L244.9 251.1 L249.6 263.7 L254.0 275.6 L262.5 276.0 L275.0 275.1 L287.5 273.2 L297.5 270.8 L303.8 267.0 L310.0 259.5 L316.2 248.2 L325.0 233.2 L331.2 222.0 L334.4 215.6 L340.0 213.3 L345.0 212.5 L350.0 214.5 L356.2 218.8 L362.5 225.0 L368.8 231.9 L375.0 237.5 L387.5 246.2 L400.0 256.2 L406.2 260.6 L415.0 265.4 L425.0 268.9 L432.5 270.6 L437.5 270.5 L444.0 268.0 L450.6 260.0 L460.0 242.5 L466.2 231.2 L472.5 220.0 L477.5 213.1 L483.8 210.2 L490.0 211.9 L497.5 220.0 L505.0 230.0 L512.5 239.4 L522.5 246.9 L535.0 255.6 L541.2 259.6 L553.0 263.2 L560.0 264.4 L575.6 265.4 L581.2 262.5 L587.5 253.8 L595.0 235.0 L601.2 221.2 L605.0 215.0 L610.0 208.8 L615.0 205.6 L620.0 205.4 L625.0 207.2 L630.0 212.5 L635.0 220.0 L641.2 228.8 L647.5 234.4 L652.5 239.4 L663.8 245.0 L675.0 250.6 L685.0 253.1 L693.8 258.8 L704.0 266.2 L710.0 271.2 L717.5 273.1 L727.5 270.6 L740.0 263.8 L752.5 257.5 L758.8 257.0 L766.2 258.9 L769.5 261.2 L772.5 264.3 L780.0 271.2 L790.0 278.8 L804.0 289.4 L809.4 295.0 L817.5 300.0 L830.0 304.8 L842.5 307.5 L851.9 309.8 L855.5 308.3 L858.8 305.0 L865.0 298.8 L872.5 287.5 L880.0 275.0 L886.2 266.2 L892.5 262.1 L898.8 261.9 L903.8 264.4 L910.0 271.2 L916.2 280.0 L921.2 286.2 L927.5 291.2 L935.0 296.2 L943.8 302.5 L952.5 308.8 L957.5 311.9 L967.5 315.6 L977.5 318.1 L985.0 319.6 L990.0 319.6 L995.5 317.8 L1001.7 311.5 L1009.1 299.0 L1016.4 285.8 L1023.8 272.6 L1030.4 266.4 L1036.7 264.5 L1042.1 266.7 L1048.7 274.1 L1055.4 282.2 L1064.9 289.5 L1070.7 292.4 L1081.0 300.5 L1094.5 310.0" fill="none" stroke="#ff0000" stroke-width="3.1" stroke-linejoin="round" stroke-linecap="butt"/>
<text x="161.9" y="286.25" text-anchor="middle" stroke="#000" stroke-width="0.34" style="font-family:'DejaVu Sans','Liberation Sans',sans-serif;font-size:17.6px">13</text>
<text x="219.1" y="237.6" text-anchor="middle" stroke="#000" stroke-width="0.34" style="font-family:'DejaVu Sans','Liberation Sans',sans-serif;font-size:17.6px">20</text>
<text x="259.4" y="297.6" text-anchor="middle" stroke="#000" stroke-width="0.34" style="font-family:'DejaVu Sans','Liberation Sans',sans-serif;font-size:17.6px">11</text>
<text x="345.6" y="233.75" text-anchor="middle" stroke="#000" stroke-width="0.34" style="font-family:'DejaVu Sans','Liberation Sans',sans-serif;font-size:17.6px">20</text>
<text x="437.8" y="292" text-anchor="middle" stroke="#000" stroke-width="0.34" style="font-family:'DejaVu Sans','Liberation Sans',sans-serif;font-size:17.6px">12</text>
<text x="483.4" y="232.75" text-anchor="middle" stroke="#000" stroke-width="0.34" style="font-family:'DejaVu Sans','Liberation Sans',sans-serif;font-size:17.6px">21</text>
<text x="570.2" y="287.5" text-anchor="middle" stroke="#000" stroke-width="0.34" style="font-family:'DejaVu Sans','Liberation Sans',sans-serif;font-size:17.6px">13</text>
<text x="615.6" y="226.9" text-anchor="middle" stroke="#000" stroke-width="0.34" style="font-family:'DejaVu Sans','Liberation Sans',sans-serif;font-size:17.6px">21</text>
<text x="714.4" y="294" text-anchor="middle" stroke="#000" stroke-width="0.34" style="font-family:'DejaVu Sans','Liberation Sans',sans-serif;font-size:17.6px">12</text>
<text x="760.6" y="278.75" text-anchor="middle" stroke="#000" stroke-width="0.34" style="font-family:'DejaVu Sans','Liberation Sans',sans-serif;font-size:17.6px">14</text>
<text x="852.5" y="330.6" text-anchor="middle" stroke="#000" stroke-width="0.34" style="font-family:'DejaVu Sans','Liberation Sans',sans-serif;font-size:17.6px">7</text>
<text x="898.4" y="282.8" text-anchor="middle" stroke="#000" stroke-width="0.34" style="font-family:'DejaVu Sans','Liberation Sans',sans-serif;font-size:17.6px">13</text>
<text x="985.6" y="340.6" text-anchor="middle" stroke="#000" stroke-width="0.34" style="font-family:'DejaVu Sans','Liberation Sans',sans-serif;font-size:17.6px">5</text>
<text x="1036.2" y="286.25" text-anchor="middle" stroke="#000" stroke-width="0.34" style="font-family:'DejaVu Sans','Liberation Sans',sans-serif;font-size:17.6px">13</text>
<text x="1094.4" y="330.6" text-anchor="middle" stroke="#000" stroke-width="0.34" style="font-family:'DejaVu Sans','Liberation Sans',sans-serif;font-size:17.6px">7</text></g>
<g id="icons"><path d="M144.17 100.90 C136.37 102.00 130.57 107.25 130.57 113.60 C130.57 119.95 136.37 125.90 144.17 126.30 C140.50 121.22 139.00 117.41 139.00 113.60 C139.00 109.16 140.50 105.34 144.17 100.90Z" fill="#fbfbfb" stroke="#000" stroke-width="1.65" stroke-linejoin="round"/><path d="M137.84 126.60C136.63 125.53 136.76 125.80 136.07 123.70C135.38 121.60 135.43 122.30 135.77 120.30C136.11 118.30 135.77 119.00 137.08 117.70C138.39 116.40 137.85 116.80 139.70 116.40C141.55 116.00 141.65 116.47 142.63 116.50C143.05 115.63 142.71 115.50 143.89 113.90C145.06 112.30 144.53 112.67 146.16 111.70C147.79 110.73 146.89 111.00 148.78 111.00C150.66 111.00 150.16 110.73 151.80 111.70C153.45 112.67 152.88 112.47 153.72 113.90C154.56 115.33 154.12 115.30 154.32 116.00C155.26 116.20 155.58 115.80 157.15 116.60C158.71 117.40 158.17 116.90 159.01 118.40C159.85 119.90 159.68 119.23 159.67 121.10C159.65 122.97 159.80 122.33 158.96 124.00C158.12 125.67 158.76 125.17 157.15 126.10C155.53 127.03 156.64 126.53 154.12 126.80C151.60 127.07 152.54 127.03 149.58 126.90C146.63 126.77 147.77 126.40 145.25 126.40C142.73 126.40 143.87 126.73 142.02 126.90C140.17 127.07 141.10 127.00 139.70 126.90C138.31 126.80 139.05 127.67 137.84 126.60Z" fill="#d0d0d0" stroke="#27496f" stroke-width="1.65" stroke-linejoin="round"/><path d="M154.32 116.00 C152.51 116.20 150.69 117.50 149.79 119.30" fill="none" stroke="#27496f" stroke-width="1.65" stroke-linecap="round"/>
<path d="M189.43 114.96L193.34 115.79M185.96 120.01L188.14 123.36M179.94 121.13L179.11 125.04M174.89 117.66L171.54 119.84M173.78 111.64L169.87 110.81M177.25 106.59L175.07 103.24M183.27 105.47L184.10 101.56M188.31 108.94L191.67 106.76" stroke="#dcbd2c" stroke-width="3.0" stroke-linecap="round" fill="none"/><path d="M189.43 114.96L193.34 115.79M185.96 120.01L188.14 123.36M179.94 121.13L179.11 125.04M174.89 117.66L171.54 119.84M173.78 111.64L169.87 110.81M177.25 106.59L175.07 103.24M183.27 105.47L184.10 101.56M188.31 108.94L191.67 106.76" stroke="#f6e71c" stroke-width="2.1" stroke-linecap="round" fill="none"/><circle cx="181.60" cy="113.30" r="6.3" fill="#f6e71c" stroke="#f4b223" stroke-width="0.9"/><path d="M164.37 127.04C163.27 126.10 163.39 126.34 162.76 124.50C162.14 122.66 162.18 123.27 162.49 121.52C162.79 119.77 162.49 120.39 163.68 119.25C164.87 118.11 164.38 118.46 166.06 118.11C167.74 117.76 167.83 118.17 168.72 118.20C169.10 117.44 168.80 117.33 169.87 115.92C170.94 114.52 170.45 114.85 171.93 114.00C173.41 113.15 172.60 113.39 174.31 113.39C176.02 113.39 175.56 113.15 177.06 114.00C178.56 114.85 178.04 114.67 178.80 115.92C179.57 117.18 179.17 117.15 179.35 117.76C180.21 117.94 180.50 117.59 181.92 118.29C183.34 118.99 182.85 118.55 183.62 119.86C184.38 121.17 184.23 120.59 184.21 122.22C184.20 123.86 184.33 123.30 183.57 124.76C182.81 126.22 183.39 125.78 181.92 126.60C180.45 127.42 181.46 126.98 179.17 127.21C176.88 127.45 177.73 127.42 175.05 127.30C172.36 127.18 173.40 126.86 171.10 126.86C168.81 126.86 169.85 127.15 168.17 127.30C166.49 127.45 167.33 127.39 166.06 127.30C164.79 127.21 165.47 127.97 164.37 127.04Z" fill="#d0d0d0" stroke="#2a62b8" stroke-width="1.65" stroke-linejoin="round"/><path d="M179.35 117.76 C177.70 117.94 176.05 119.08 175.23 120.65" fill="none" stroke="#2a62b8" stroke-width="1.65" stroke-linecap="round"/>
<path d="M223.96 114.96L227.88 115.79M220.50 120.01L222.67 123.36M214.48 121.13L213.64 125.04M209.43 117.66L206.08 119.84M208.31 111.64L204.40 110.81M211.78 106.59L209.60 103.24M217.80 105.47L218.63 101.56M222.85 108.94L226.20 106.76" stroke="#dcbd2c" stroke-width="3.0" stroke-linecap="round" fill="none"/><path d="M223.96 114.96L227.88 115.79M220.50 120.01L222.67 123.36M214.48 121.13L213.64 125.04M209.43 117.66L206.08 119.84M208.31 111.64L204.40 110.81M211.78 106.59L209.60 103.24M217.80 105.47L218.63 101.56M222.85 108.94L226.20 106.76" stroke="#f6e71c" stroke-width="2.1" stroke-linecap="round" fill="none"/><circle cx="216.14" cy="113.30" r="6.3" fill="#f6e71c" stroke="#f4b223" stroke-width="0.9"/><path d="M198.90 127.04C197.80 126.10 197.92 126.34 197.30 124.50C196.67 122.66 196.72 123.27 197.02 121.52C197.33 119.77 197.02 120.39 198.21 119.25C199.41 118.11 198.92 118.46 200.60 118.11C202.28 117.76 202.37 118.17 203.26 118.20C203.64 117.44 203.33 117.33 204.40 115.92C205.47 114.52 204.98 114.85 206.46 114.00C207.95 113.15 207.14 113.39 208.85 113.39C210.56 113.39 210.10 113.15 211.60 114.00C213.09 114.85 212.58 114.67 213.34 115.92C214.10 117.18 213.71 117.15 213.89 117.76C214.74 117.94 215.04 117.59 216.46 118.29C217.88 118.99 217.39 118.55 218.15 119.86C218.92 121.17 218.76 120.59 218.75 122.22C218.73 123.86 218.87 123.30 218.11 124.76C217.34 126.22 217.92 125.78 216.46 126.60C214.99 127.42 216.00 126.98 213.71 127.21C211.41 127.45 212.27 127.42 209.58 127.30C206.89 127.18 207.93 126.86 205.64 126.86C203.35 126.86 204.39 127.15 202.71 127.30C201.03 127.45 201.87 127.39 200.60 127.30C199.33 127.21 200.00 127.97 198.90 127.04Z" fill="#d0d0d0" stroke="#2a62b8" stroke-width="1.65" stroke-linejoin="round"/><path d="M213.89 117.76 C212.24 117.94 210.59 119.08 209.76 120.65" fill="none" stroke="#2a62b8" stroke-width="1.65" stroke-linecap="round"/>
<path d="M247.78 100.90 C239.97 102.00 234.17 107.25 234.17 113.60 C234.17 119.95 239.97 125.90 247.78 126.30 C244.11 121.22 242.61 117.41 242.61 113.60 C242.61 109.16 244.11 105.34 247.78 100.90Z" fill="#fbfbfb" stroke="#000" stroke-width="1.65" stroke-linejoin="round"/><path d="M241.44 126.60C240.23 125.53 240.37 125.80 239.68 123.70C238.99 121.60 239.04 122.30 239.38 120.30C239.71 118.30 239.38 119.00 240.69 117.70C242.00 116.40 241.46 116.80 243.31 116.40C245.16 116.00 245.26 116.47 246.23 116.50C246.65 115.63 246.32 115.50 247.49 113.90C248.67 112.30 248.13 112.67 249.76 111.70C251.39 110.73 250.50 111.00 252.38 111.00C254.27 111.00 253.76 110.73 255.41 111.70C257.06 112.67 256.48 112.47 257.32 113.90C258.17 115.33 257.73 115.30 257.93 116.00C258.87 116.20 259.19 115.80 260.75 116.60C262.32 117.40 261.78 116.90 262.62 118.40C263.46 119.90 263.29 119.23 263.27 121.10C263.26 122.97 263.41 122.33 262.57 124.00C261.73 125.67 262.37 125.17 260.75 126.10C259.14 127.03 260.25 126.53 257.73 126.80C255.21 127.07 256.15 127.03 253.19 126.90C250.23 126.77 251.38 126.40 248.86 126.40C246.33 126.40 247.48 126.73 245.63 126.90C243.78 127.07 244.70 127.00 243.31 126.90C241.91 126.80 242.65 127.67 241.44 126.60Z" fill="#d0d0d0" stroke="#27496f" stroke-width="1.65" stroke-linejoin="round"/><path d="M257.93 116.00 C256.12 116.20 254.30 117.50 253.39 119.30" fill="none" stroke="#27496f" stroke-width="1.65" stroke-linecap="round"/>
<path d="M282.31 100.90 C274.51 102.00 268.71 107.25 268.71 113.60 C268.71 119.95 274.51 125.90 282.31 126.30 C278.64 121.22 277.14 117.41 277.14 113.60 C277.14 109.16 278.64 105.34 282.31 100.90Z" fill="#fbfbfb" stroke="#000" stroke-width="1.65" stroke-linejoin="round"/><path d="M275.98 126.60C274.77 125.53 274.90 125.80 274.21 123.70C273.53 121.60 273.58 122.30 273.91 120.30C274.25 118.30 273.91 119.00 275.22 117.70C276.53 116.40 276.00 116.80 277.84 116.40C279.69 116.00 279.79 116.47 280.77 116.50C281.19 115.63 280.85 115.50 282.03 113.90C283.21 112.30 282.67 112.67 284.30 111.70C285.93 110.73 285.04 111.00 286.92 111.00C288.80 111.00 288.30 110.73 289.94 111.70C291.59 112.67 291.02 112.47 291.86 113.90C292.70 115.33 292.26 115.30 292.47 116.00C293.41 116.20 293.73 115.80 295.29 116.60C296.85 117.40 296.31 116.90 297.15 118.40C297.99 119.90 297.83 119.23 297.81 121.10C297.79 122.97 297.94 122.33 297.10 124.00C296.26 125.67 296.90 125.17 295.29 126.10C293.68 127.03 294.78 126.53 292.26 126.80C289.74 127.07 290.68 127.03 287.73 126.90C284.77 126.77 285.91 126.40 283.39 126.40C280.87 126.40 282.01 126.73 280.16 126.90C278.32 127.07 279.24 127.00 277.84 126.90C276.45 126.80 277.19 127.67 275.98 126.60Z" fill="#d0d0d0" stroke="#27496f" stroke-width="1.65" stroke-linejoin="round"/><path d="M292.47 116.00 C290.65 116.20 288.84 117.50 287.93 119.30" fill="none" stroke="#27496f" stroke-width="1.65" stroke-linecap="round"/>
<path d="M327.57 114.96L331.48 115.79M324.10 120.01L326.28 123.36M318.08 121.13L317.25 125.04M313.04 117.66L309.68 119.84M311.92 111.64L308.01 110.81M315.39 106.59L313.21 103.24M321.41 105.47L322.24 101.56M326.46 108.94L329.81 106.76" stroke="#dcbd2c" stroke-width="3.0" stroke-linecap="round" fill="none"/><path d="M327.57 114.96L331.48 115.79M324.10 120.01L326.28 123.36M318.08 121.13L317.25 125.04M313.04 117.66L309.68 119.84M311.92 111.64L308.01 110.81M315.39 106.59L313.21 103.24M321.41 105.47L322.24 101.56M326.46 108.94L329.81 106.76" stroke="#f6e71c" stroke-width="2.1" stroke-linecap="round" fill="none"/><circle cx="319.75" cy="113.30" r="6.3" fill="#f6e71c" stroke="#f4b223" stroke-width="0.9"/><path d="M302.51 127.04C301.41 126.10 301.53 126.34 300.90 124.50C300.28 122.66 300.32 123.27 300.63 121.52C300.94 119.77 300.63 120.39 301.82 119.25C303.01 118.11 302.52 118.46 304.20 118.11C305.89 117.76 305.98 118.17 306.86 118.20C307.25 117.44 306.94 117.33 308.01 115.92C309.08 114.52 308.59 114.85 310.07 114.00C311.55 113.15 310.74 113.39 312.45 113.39C314.17 113.39 313.71 113.15 315.20 114.00C316.70 114.85 316.18 114.67 316.95 115.92C317.71 117.18 317.31 117.15 317.50 117.76C318.35 117.94 318.64 117.59 320.06 118.29C321.48 118.99 321.00 118.55 321.76 119.86C322.52 121.17 322.37 120.59 322.35 122.22C322.34 123.86 322.48 123.30 321.71 124.76C320.95 126.22 321.53 125.78 320.06 126.60C318.60 127.42 319.60 126.98 317.31 127.21C315.02 127.45 315.88 127.42 313.19 127.30C310.50 127.18 311.54 126.86 309.25 126.86C306.95 126.86 307.99 127.15 306.31 127.30C304.63 127.45 305.47 127.39 304.20 127.30C302.94 127.21 303.61 127.97 302.51 127.04Z" fill="#d0d0d0" stroke="#2a62b8" stroke-width="1.65" stroke-linejoin="round"/><path d="M317.50 117.76 C315.85 117.94 314.20 119.08 313.37 120.65" fill="none" stroke="#2a62b8" stroke-width="1.65" stroke-linecap="round"/>
<path d="M356.31 115.36L360.22 116.19M352.84 120.41L355.02 123.76M346.82 121.53L345.99 125.44M341.77 118.06L338.42 120.24M340.66 112.04L336.74 111.21M344.13 106.99L341.95 103.64M350.15 105.87L350.98 101.96M355.19 109.34L358.55 107.16" stroke="#dcbd2c" stroke-width="3.0" stroke-linecap="round" fill="none"/><path d="M356.31 115.36L360.22 116.19M352.84 120.41L355.02 123.76M346.82 121.53L345.99 125.44M341.77 118.06L338.42 120.24M340.66 112.04L336.74 111.21M344.13 106.99L341.95 103.64M350.15 105.87L350.98 101.96M355.19 109.34L358.55 107.16" stroke="#f6e71c" stroke-width="2.1" stroke-linecap="round" fill="none"/><circle cx="348.48" cy="113.70" r="6.3" fill="#f6e71c" stroke="#f4b223" stroke-width="0.9"/><path d="M350.22 125.38C349.35 124.58 349.44 124.77 348.95 123.20C348.45 121.62 348.48 122.15 348.73 120.65C348.97 119.15 348.73 119.67 349.68 118.70C350.62 117.72 350.23 118.02 351.57 117.72C352.91 117.42 352.98 117.77 353.69 117.80C353.99 117.15 353.75 117.05 354.60 115.85C355.45 114.65 355.06 114.92 356.24 114.20C357.42 113.47 356.77 113.67 358.13 113.67C359.50 113.67 359.13 113.47 360.32 114.20C361.51 114.92 361.10 114.77 361.71 115.85C362.31 116.92 362.00 116.90 362.14 117.42C362.83 117.58 363.06 117.28 364.19 117.88C365.32 118.47 364.93 118.10 365.54 119.22C366.14 120.35 366.02 119.85 366.01 121.25C366.00 122.65 366.11 122.17 365.50 123.42C364.89 124.67 365.35 124.30 364.19 125.00C363.02 125.70 363.82 125.32 362.00 125.52C360.18 125.72 360.86 125.70 358.72 125.60C356.58 125.50 357.41 125.22 355.58 125.22C353.76 125.22 354.59 125.47 353.25 125.60C351.91 125.72 352.58 125.67 351.57 125.60C350.56 125.52 351.10 126.17 350.22 125.38Z" fill="#ffffff" stroke="#2a62b8" stroke-width="1.7" stroke-linejoin="round"/><path d="M362.14 117.42 C360.83 117.57 359.52 118.55 358.86 119.90" fill="none" stroke="#2a62b8" stroke-width="1.7" stroke-linecap="round"/>
<path d="M389.52 100.90 C381.72 102.00 375.92 107.25 375.92 113.60 C375.92 119.95 381.72 125.90 389.52 126.30 C385.85 121.22 384.35 117.41 384.35 113.60 C384.35 109.16 385.85 105.34 389.52 100.90Z" fill="#fbfbfb" stroke="#000" stroke-width="1.65" stroke-linejoin="round"/><path d="M383.14 125.88C382.27 125.09 382.37 125.29 381.88 123.74C381.39 122.19 381.42 122.71 381.66 121.23C381.90 119.76 381.66 120.27 382.60 119.31C383.54 118.36 383.15 118.65 384.47 118.36C385.79 118.06 385.87 118.41 386.56 118.43C386.86 117.79 386.62 117.69 387.46 116.51C388.31 115.33 387.92 115.60 389.09 114.89C390.25 114.18 389.62 114.37 390.96 114.37C392.31 114.37 391.95 114.18 393.12 114.89C394.30 115.60 393.89 115.46 394.49 116.51C395.09 117.57 394.78 117.55 394.93 118.06C395.60 118.21 395.83 117.91 396.94 118.50C398.06 119.09 397.68 118.72 398.28 119.83C398.88 120.94 398.76 120.45 398.75 121.82C398.73 123.20 398.84 122.73 398.24 123.96C397.64 125.19 398.10 124.82 396.94 125.51C395.79 126.20 396.58 125.83 394.78 126.03C392.98 126.22 393.65 126.20 391.54 126.10C389.42 126.00 390.24 125.73 388.44 125.73C386.64 125.73 387.45 125.98 386.13 126.10C384.81 126.22 385.47 126.17 384.47 126.10C383.48 126.03 384.00 126.67 383.14 125.88Z" fill="#d0d0d0" stroke="#27496f" stroke-width="1.6" stroke-linejoin="round"/><path d="M394.93 118.06 C393.63 118.21 392.33 119.17 391.68 120.50" fill="none" stroke="#27496f" stroke-width="1.6" stroke-linecap="round"/>
<path d="M425.35 100.90 C417.75 102.00 412.15 107.25 412.15 113.60 C412.15 119.95 417.75 125.90 425.35 126.30 C421.84 121.22 420.34 117.41 420.34 113.60 C420.34 109.16 421.84 105.34 425.35 100.90Z" fill="#fbfbfb" stroke="#000" stroke-width="1.65" stroke-linejoin="round"/><line x1="402.55" x2="439.55" y1="115.8" y2="115.8" stroke="#27496f" stroke-width="1.6"/><line x1="403.85" x2="438.25" y1="119.2" y2="119.2" stroke="#27496f" stroke-width="1.6"/><line x1="405.45" x2="436.65" y1="123.6" y2="123.6" stroke="#27496f" stroke-width="2.6"/>
<path d="M465.71 114.96L469.63 115.79M462.25 120.01L464.42 123.36M456.23 121.13L455.39 125.04M451.18 117.66L447.83 119.84M450.06 111.64L446.15 110.81M453.53 106.59L451.35 103.24M459.55 105.47L460.38 101.56M464.60 108.94L467.95 106.76" stroke="#dcbd2c" stroke-width="3.0" stroke-linecap="round" fill="none"/><path d="M465.71 114.96L469.63 115.79M462.25 120.01L464.42 123.36M456.23 121.13L455.39 125.04M451.18 117.66L447.83 119.84M450.06 111.64L446.15 110.81M453.53 106.59L451.35 103.24M459.55 105.47L460.38 101.56M464.60 108.94L467.95 106.76" stroke="#f6e71c" stroke-width="2.1" stroke-linecap="round" fill="none"/><circle cx="457.89" cy="113.30" r="6.3" fill="#f6e71c" stroke="#f4b223" stroke-width="0.9"/><path d="M440.65 127.04C439.55 126.10 439.67 126.34 439.05 124.50C438.42 122.66 438.47 123.27 438.77 121.52C439.08 119.77 438.77 120.39 439.96 119.25C441.16 118.11 440.67 118.46 442.35 118.11C444.03 117.76 444.12 118.17 445.01 118.20C445.39 117.44 445.08 117.33 446.15 115.92C447.22 114.52 446.73 114.85 448.21 114.00C449.70 113.15 448.89 113.39 450.60 113.39C452.31 113.39 451.85 113.15 453.35 114.00C454.84 114.85 454.33 114.67 455.09 115.92C455.85 117.18 455.46 117.15 455.64 117.76C456.49 117.94 456.79 117.59 458.21 118.29C459.63 118.99 459.14 118.55 459.90 119.86C460.67 121.17 460.51 120.59 460.50 122.22C460.48 123.86 460.62 123.30 459.86 124.76C459.09 126.22 459.67 125.78 458.21 126.60C456.74 127.42 457.75 126.98 455.46 127.21C453.16 127.45 454.02 127.42 451.33 127.30C448.64 127.18 449.68 126.86 447.39 126.86C445.10 126.86 446.14 127.15 444.46 127.30C442.78 127.45 443.62 127.39 442.35 127.30C441.08 127.21 441.75 127.97 440.65 127.04Z" fill="#d0d0d0" stroke="#2a62b8" stroke-width="1.65" stroke-linejoin="round"/><path d="M455.64 117.76 C453.99 117.94 452.34 119.08 451.51 120.65" fill="none" stroke="#2a62b8" stroke-width="1.65" stroke-linecap="round"/>
<path d="M494.45 115.36L498.36 116.19M490.98 120.41L493.16 123.76M484.96 121.53L484.13 125.44M479.92 118.06L476.56 120.24M478.80 112.04L474.89 111.21M482.27 106.99L480.09 103.64M488.29 105.87L489.12 101.96M493.33 109.34L496.69 107.16" stroke="#dcbd2c" stroke-width="3.0" stroke-linecap="round" fill="none"/><path d="M494.45 115.36L498.36 116.19M490.98 120.41L493.16 123.76M484.96 121.53L484.13 125.44M479.92 118.06L476.56 120.24M478.80 112.04L474.89 111.21M482.27 106.99L480.09 103.64M488.29 105.87L489.12 101.96M493.33 109.34L496.69 107.16" stroke="#f6e71c" stroke-width="2.1" stroke-linecap="round" fill="none"/><circle cx="486.62" cy="113.70" r="6.3" fill="#f6e71c" stroke="#f4b223" stroke-width="0.9"/><path d="M488.37 125.38C487.49 124.58 487.59 124.77 487.09 123.20C486.59 121.62 486.63 122.15 486.87 120.65C487.11 119.15 486.87 119.67 487.82 118.70C488.77 117.72 488.38 118.02 489.71 117.72C491.05 117.42 491.12 117.77 491.83 117.80C492.13 117.15 491.89 117.05 492.74 115.85C493.59 114.65 493.20 114.92 494.38 114.20C495.56 113.47 494.92 113.67 496.28 113.67C497.64 113.67 497.27 113.47 498.46 114.20C499.66 114.92 499.24 114.77 499.85 115.85C500.46 116.92 500.14 116.90 500.29 117.42C500.97 117.58 501.20 117.28 502.33 117.88C503.46 118.47 503.07 118.10 503.68 119.22C504.29 120.35 504.16 119.85 504.15 121.25C504.14 122.65 504.25 122.17 503.64 123.42C503.03 124.67 503.50 124.30 502.33 125.00C501.16 125.70 501.96 125.32 500.14 125.52C498.32 125.72 499.00 125.70 496.86 125.60C494.72 125.50 495.55 125.22 493.73 125.22C491.90 125.22 492.73 125.47 491.39 125.60C490.05 125.72 490.72 125.67 489.71 125.60C488.71 125.52 489.24 126.17 488.37 125.38Z" fill="#ffffff" stroke="#2a62b8" stroke-width="1.7" stroke-linejoin="round"/><path d="M500.29 117.42 C498.98 117.57 497.66 118.55 497.01 119.90" fill="none" stroke="#2a62b8" stroke-width="1.7" stroke-linecap="round"/>
<path d="M531.56 100.90 C523.76 102.00 517.96 107.25 517.96 113.60 C517.96 119.95 523.76 125.90 531.56 126.30 C527.89 121.22 526.39 117.41 526.39 113.60 C526.39 109.16 527.89 105.34 531.56 100.90Z" fill="#fbfbfb" stroke="#000" stroke-width="1.65" stroke-linejoin="round"/>
<path d="M566.10 100.90 C558.30 102.00 552.50 107.25 552.50 113.60 C552.50 119.95 558.30 125.90 566.10 126.30 C562.43 121.22 560.93 117.41 560.93 113.60 C560.93 109.16 562.43 105.34 566.10 100.90Z" fill="#fbfbfb" stroke="#000" stroke-width="1.65" stroke-linejoin="round"/>
<path d="M598.06 115.36L601.97 116.19M594.59 120.41L596.77 123.76M588.57 121.53L587.74 125.44M583.52 118.06L580.17 120.24M582.41 112.04L578.49 111.21M585.88 106.99L583.70 103.64M591.90 105.87L592.73 101.96M596.94 109.34L600.30 107.16" stroke="#dcbd2c" stroke-width="3.0" stroke-linecap="round" fill="none"/><path d="M598.06 115.36L601.97 116.19M594.59 120.41L596.77 123.76M588.57 121.53L587.74 125.44M583.52 118.06L580.17 120.24M582.41 112.04L578.49 111.21M585.88 106.99L583.70 103.64M591.90 105.87L592.73 101.96M596.94 109.34L600.30 107.16" stroke="#f6e71c" stroke-width="2.1" stroke-linecap="round" fill="none"/><circle cx="590.23" cy="113.70" r="6.3" fill="#f6e71c" stroke="#f4b223" stroke-width="0.9"/><path d="M591.97 125.38C591.10 124.58 591.19 124.77 590.70 123.20C590.20 121.62 590.23 122.15 590.48 120.65C590.72 119.15 590.48 119.67 591.43 118.70C592.37 117.72 591.98 118.02 593.32 117.72C594.66 117.42 594.73 117.77 595.44 117.80C595.74 117.15 595.50 117.05 596.35 115.85C597.20 114.65 596.81 114.92 597.99 114.20C599.17 113.47 598.52 113.67 599.88 113.67C601.25 113.67 600.88 113.47 602.07 114.20C603.26 114.92 602.85 114.77 603.46 115.85C604.06 116.92 603.75 116.90 603.89 117.42C604.58 117.58 604.81 117.28 605.94 117.88C607.07 118.47 606.68 118.10 607.29 119.22C607.89 120.35 607.77 119.85 607.76 121.25C607.75 122.65 607.86 122.17 607.25 123.42C606.64 124.67 607.10 124.30 605.94 125.00C604.77 125.70 605.57 125.32 603.75 125.52C601.93 125.72 602.61 125.70 600.47 125.60C598.33 125.50 599.16 125.22 597.33 125.22C595.51 125.22 596.34 125.47 595.00 125.60C593.66 125.72 594.33 125.67 593.32 125.60C592.31 125.52 592.85 126.17 591.97 125.38Z" fill="#ffffff" stroke="#2a62b8" stroke-width="1.7" stroke-linejoin="round"/><path d="M603.89 117.42 C602.58 117.57 601.27 118.55 600.61 119.90" fill="none" stroke="#2a62b8" stroke-width="1.7" stroke-linecap="round"/>
<path d="M632.59 115.36L636.51 116.19M629.12 120.41L631.30 123.76M623.10 121.53L622.27 125.44M618.06 118.06L614.70 120.24M616.94 112.04L613.03 111.21M620.41 106.99L618.23 103.64M626.43 105.87L627.26 101.96M631.48 109.34L634.83 107.16" stroke="#dcbd2c" stroke-width="3.0" stroke-linecap="round" fill="none"/><path d="M632.59 115.36L636.51 116.19M629.12 120.41L631.30 123.76M623.10 121.53L622.27 125.44M618.06 118.06L614.70 120.24M616.94 112.04L613.03 111.21M620.41 106.99L618.23 103.64M626.43 105.87L627.26 101.96M631.48 109.34L634.83 107.16" stroke="#f6e71c" stroke-width="2.1" stroke-linecap="round" fill="none"/><circle cx="624.77" cy="113.70" r="6.3" fill="#f6e71c" stroke="#f4b223" stroke-width="0.9"/><path d="M626.51 125.38C625.63 124.58 625.73 124.77 625.23 123.20C624.73 121.62 624.77 122.15 625.01 120.65C625.26 119.15 625.01 119.67 625.96 118.70C626.91 117.72 626.52 118.02 627.86 117.72C629.19 117.42 629.27 117.77 629.97 117.80C630.28 117.15 630.03 117.05 630.88 115.85C631.73 114.65 631.35 114.92 632.52 114.20C633.70 113.47 633.06 113.67 634.42 113.67C635.78 113.67 635.42 113.47 636.61 114.20C637.80 114.92 637.39 114.77 637.99 115.85C638.60 116.92 638.28 116.90 638.43 117.42C639.11 117.58 639.34 117.28 640.47 117.88C641.60 118.47 641.21 118.10 641.82 119.22C642.43 120.35 642.31 119.85 642.29 121.25C642.28 122.65 642.39 122.17 641.78 123.42C641.18 124.67 641.64 124.30 640.47 125.00C639.31 125.70 640.11 125.32 638.28 125.52C636.46 125.72 637.14 125.70 635.00 125.60C632.86 125.50 633.69 125.22 631.87 125.22C630.04 125.22 630.87 125.47 629.53 125.60C628.20 125.72 628.87 125.67 627.86 125.60C626.85 125.52 627.38 126.17 626.51 125.38Z" fill="#ffffff" stroke="#2a62b8" stroke-width="1.7" stroke-linejoin="round"/><path d="M638.43 117.42 C637.12 117.57 635.81 118.55 635.15 119.90" fill="none" stroke="#2a62b8" stroke-width="1.7" stroke-linecap="round"/>
<path d="M662.20 100.90 C654.40 102.00 648.60 107.25 648.60 113.60 C648.60 119.95 654.40 125.90 662.20 126.30 C658.54 121.22 657.04 117.41 657.04 113.60 C657.04 109.16 658.54 105.34 662.20 100.90Z" fill="#fbfbfb" stroke="#000" stroke-width="1.65" stroke-linejoin="round"/><path d="M655.87 126.60C654.66 125.53 654.80 125.80 654.11 123.70C653.42 121.60 653.47 122.30 653.81 120.30C654.14 118.30 653.81 119.00 655.12 117.70C656.43 116.40 655.89 116.80 657.74 116.40C659.59 116.00 659.69 116.47 660.66 116.50C661.08 115.63 660.75 115.50 661.92 113.90C663.10 112.30 662.56 112.67 664.19 111.70C665.82 110.73 664.93 111.00 666.81 111.00C668.69 111.00 668.19 110.73 669.84 111.70C671.48 112.67 670.91 112.47 671.75 113.90C672.59 115.33 672.16 115.30 672.36 116.00C673.30 116.20 673.62 115.80 675.18 116.60C676.74 117.40 676.21 116.90 677.05 118.40C677.89 119.90 677.72 119.23 677.70 121.10C677.69 122.97 677.84 122.33 677.00 124.00C676.16 125.67 676.80 125.17 675.18 126.10C673.57 127.03 674.68 126.53 672.16 126.80C669.64 127.07 670.58 127.03 667.62 126.90C664.66 126.77 665.80 126.40 663.28 126.40C660.76 126.40 661.91 126.73 660.06 126.90C658.21 127.07 659.13 127.00 657.74 126.90C656.34 126.80 657.08 127.67 655.87 126.60Z" fill="#d0d0d0" stroke="#27496f" stroke-width="1.65" stroke-linejoin="round"/><path d="M672.36 116.00 C670.54 116.20 668.73 117.50 667.82 119.30" fill="none" stroke="#27496f" stroke-width="1.65" stroke-linecap="round"/>
<path d="M683.23 124.12C681.53 122.75 681.72 123.09 680.75 120.40C679.78 117.71 679.85 118.61 680.32 116.04C680.79 113.48 680.32 114.38 682.16 112.71C684.01 111.05 683.25 111.56 685.85 111.05C688.44 110.53 688.59 111.13 689.96 111.17C690.55 110.06 690.07 109.89 691.73 107.84C693.38 105.79 692.62 106.26 694.91 105.03C697.20 103.79 695.95 104.13 698.60 104.13C701.24 104.13 700.53 103.79 702.85 105.03C705.16 106.26 704.36 106.01 705.54 107.84C706.72 109.68 706.11 109.64 706.39 110.53C707.71 110.79 708.16 110.28 710.36 111.30C712.55 112.33 711.80 111.69 712.98 113.61C714.16 115.53 713.92 114.68 713.90 117.07C713.87 119.46 714.09 118.65 712.91 120.78C711.73 122.92 712.62 122.28 710.36 123.47C708.09 124.67 709.65 124.03 706.11 124.37C702.56 124.71 703.89 124.67 699.73 124.50C695.58 124.33 697.18 123.86 693.64 123.86C690.10 123.86 691.70 124.29 689.11 124.50C686.51 124.71 687.81 124.63 685.85 124.50C683.89 124.37 684.93 125.48 683.23 124.12Z" fill="#d0d0d0" stroke="#27496f" stroke-width="1.65" stroke-linejoin="round"/><path d="M691.16 125.73C690.03 124.77 690.15 125.01 689.51 123.12C688.87 121.23 688.91 121.86 689.23 120.06C689.54 118.26 689.23 118.89 690.45 117.72C691.68 116.55 691.17 116.91 692.90 116.55C694.63 116.19 694.72 116.61 695.63 116.64C696.02 115.86 695.71 115.74 696.81 114.30C697.91 112.86 697.40 113.19 698.93 112.32C700.45 111.45 699.62 111.69 701.38 111.69C703.13 111.69 702.66 111.45 704.20 112.32C705.74 113.19 705.20 113.01 705.99 114.30C706.77 115.59 706.37 115.56 706.55 116.19C707.43 116.37 707.73 116.01 709.19 116.73C710.65 117.45 710.15 117.00 710.93 118.35C711.72 119.70 711.56 119.10 711.55 120.78C711.53 122.46 711.67 121.89 710.89 123.39C710.10 124.89 710.70 124.44 709.19 125.28C707.68 126.12 708.72 125.67 706.37 125.91C704.01 126.15 704.89 126.12 702.13 126.00C699.37 125.88 700.43 125.55 698.08 125.55C695.73 125.55 696.79 125.85 695.07 126.00C693.34 126.15 694.20 126.09 692.90 126.00C691.60 125.91 692.29 126.69 691.16 125.73Z" fill="#ffffff" stroke="#27496f" stroke-width="1.65" stroke-linejoin="round"/><path d="M706.55 116.19 C704.86 116.37 703.16 117.54 702.32 119.16" fill="none" stroke="#27496f" stroke-width="1.65" stroke-linecap="round"/>
<path d="M717.76 124.12C716.06 122.75 716.25 123.09 715.28 120.40C714.32 117.71 714.39 118.61 714.86 116.04C715.33 113.48 714.86 114.38 716.70 112.71C718.54 111.05 717.79 111.56 720.38 111.05C722.98 110.53 723.12 111.13 724.49 111.17C725.08 110.06 724.61 109.89 726.26 107.84C727.92 105.79 727.16 106.26 729.45 105.03C731.74 103.79 730.49 104.13 733.13 104.13C735.78 104.13 735.07 103.79 737.38 105.03C739.70 106.26 738.89 106.01 740.08 107.84C741.26 109.68 740.64 109.64 740.93 110.53C742.25 110.79 742.70 110.28 744.89 111.30C747.09 112.33 746.33 111.69 747.51 113.61C748.69 115.53 748.46 114.68 748.43 117.07C748.41 119.46 748.62 118.65 747.44 120.78C746.26 122.92 747.16 122.28 744.89 123.47C742.63 124.67 744.18 124.03 740.64 124.37C737.10 124.71 738.42 124.67 734.27 124.50C730.11 124.33 731.72 123.86 728.18 123.86C724.63 123.86 726.24 124.29 723.64 124.50C721.04 124.71 722.34 124.63 720.38 124.50C718.42 124.37 719.46 125.48 717.76 124.12Z" fill="#d0d0d0" stroke="#2a62b8" stroke-width="1.65" stroke-linejoin="round"/><path d="M725.69 125.73C724.56 124.77 724.69 125.01 724.05 123.12C723.40 121.23 723.45 121.86 723.76 120.06C724.08 118.26 723.76 118.89 724.99 117.72C726.21 116.55 725.71 116.91 727.44 116.55C729.16 116.19 729.26 116.61 730.17 116.64C730.56 115.86 730.25 115.74 731.34 114.30C732.44 112.86 731.94 113.19 733.46 112.32C734.98 111.45 734.15 111.69 735.91 111.69C737.67 111.69 737.20 111.45 738.74 112.32C740.27 113.19 739.74 113.01 740.53 114.30C741.31 115.59 740.90 115.56 741.09 116.19C741.97 116.37 742.27 116.01 743.73 116.73C745.19 117.45 744.68 117.00 745.47 118.35C746.25 119.70 746.10 119.10 746.08 120.78C746.07 122.46 746.21 121.89 745.42 123.39C744.64 124.89 745.23 124.44 743.73 125.28C742.22 126.12 743.26 125.67 740.90 125.91C738.55 126.15 739.43 126.12 736.66 126.00C733.90 125.88 734.97 125.55 732.62 125.55C730.26 125.55 731.33 125.85 729.60 126.00C727.88 126.15 728.74 126.09 727.44 126.00C726.13 125.91 726.82 126.69 725.69 125.73Z" fill="#ffffff" stroke="#2a62b8" stroke-width="1.65" stroke-linejoin="round"/><path d="M741.09 116.19 C739.40 116.37 737.70 117.54 736.85 119.16" fill="none" stroke="#2a62b8" stroke-width="1.65" stroke-linecap="round"/><line x1="730.93" y1="128.8" x2="730.02" y2="133.4" stroke="#3f74c4" stroke-width="2.3"/><line x1="735.33" y1="128.8" x2="734.42" y2="133.4" stroke="#3f74c4" stroke-width="2.3"/>
<path d="M779.04 114.96L782.95 115.79M775.57 120.01L777.75 123.36M769.55 121.13L768.72 125.04M764.50 117.66L761.15 119.84M763.39 111.64L759.47 110.81M766.85 106.59L764.68 103.24M772.87 105.47L773.71 101.56M777.92 108.94L781.27 106.76" stroke="#dcbd2c" stroke-width="3.0" stroke-linecap="round" fill="none"/><path d="M779.04 114.96L782.95 115.79M775.57 120.01L777.75 123.36M769.55 121.13L768.72 125.04M764.50 117.66L761.15 119.84M763.39 111.64L759.47 110.81M766.85 106.59L764.68 103.24M772.87 105.47L773.71 101.56M777.92 108.94L781.27 106.76" stroke="#f6e71c" stroke-width="2.1" stroke-linecap="round" fill="none"/><circle cx="771.21" cy="113.30" r="6.3" fill="#f6e71c" stroke="#f4b223" stroke-width="0.9"/><path d="M753.97 127.44C752.87 126.50 753.00 126.74 752.37 124.90C751.74 123.06 751.79 123.67 752.09 121.92C752.40 120.17 752.09 120.79 753.29 119.65C754.48 118.51 753.99 118.86 755.67 118.51C757.35 118.16 757.44 118.57 758.33 118.60C758.71 117.84 758.40 117.73 759.47 116.33C760.54 114.92 760.05 115.25 761.54 114.40C763.02 113.55 762.21 113.79 763.92 113.79C765.63 113.79 765.17 113.55 766.67 114.40C768.17 115.25 767.65 115.07 768.41 116.33C769.17 117.58 768.78 117.55 768.96 118.16C769.82 118.34 770.11 117.99 771.53 118.69C772.95 119.39 772.46 118.95 773.22 120.26C773.99 121.58 773.83 120.99 773.82 122.62C773.80 124.26 773.94 123.70 773.18 125.16C772.41 126.62 772.99 126.18 771.53 127.00C770.06 127.82 771.07 127.38 768.78 127.61C766.49 127.85 767.34 127.82 764.65 127.70C761.96 127.58 763.00 127.26 760.71 127.26C758.42 127.26 759.46 127.55 757.78 127.70C756.10 127.85 756.94 127.79 755.67 127.70C754.40 127.61 755.07 128.37 753.97 127.44Z" fill="#d0d0d0" stroke="#2a62b8" stroke-width="1.65" stroke-linejoin="round"/><path d="M768.96 118.16 C767.31 118.34 765.66 119.48 764.84 121.05" fill="none" stroke="#2a62b8" stroke-width="1.65" stroke-linecap="round"/><line x1="760.16" y1="128.8" x2="759.26" y2="133.4" stroke="#3f74c4" stroke-width="2.3"/><line x1="764.56" y1="128.8" x2="763.66" y2="133.4" stroke="#3f74c4" stroke-width="2.3"/>
<path d="M800.35 100.90 C792.55 102.00 786.75 107.25 786.75 113.60 C786.75 119.95 792.55 125.90 800.35 126.30 C796.68 121.22 795.18 117.41 795.18 113.60 C795.18 109.16 796.68 105.34 800.35 100.90Z" fill="#fbfbfb" stroke="#000" stroke-width="1.65" stroke-linejoin="round"/><path d="M794.02 126.60C792.81 125.53 792.94 125.80 792.25 123.70C791.56 121.60 791.61 122.30 791.95 120.30C792.28 118.30 791.95 119.00 793.26 117.70C794.57 116.40 794.03 116.80 795.88 116.40C797.73 116.00 797.83 116.47 798.80 116.50C799.22 115.63 798.89 115.50 800.07 113.90C801.24 112.30 800.70 112.67 802.33 111.70C803.96 110.73 803.07 111.00 804.96 111.00C806.84 111.00 806.33 110.73 807.98 111.70C809.63 112.67 809.06 112.47 809.90 113.90C810.74 115.33 810.30 115.30 810.50 116.00C811.44 116.20 811.76 115.80 813.32 116.60C814.89 117.40 814.35 116.90 815.19 118.40C816.03 119.90 815.86 119.23 815.85 121.10C815.83 122.97 815.98 122.33 815.14 124.00C814.30 125.67 814.94 125.17 813.32 126.10C811.71 127.03 812.82 126.53 810.30 126.80C807.78 127.07 808.72 127.03 805.76 126.90C802.80 126.77 803.95 126.40 801.43 126.40C798.91 126.40 800.05 126.73 798.20 126.90C796.35 127.07 797.28 127.00 795.88 126.90C794.49 126.80 795.23 127.67 794.02 126.60Z" fill="#d0d0d0" stroke="#27496f" stroke-width="1.65" stroke-linejoin="round"/><path d="M810.50 116.00 C808.69 116.20 806.87 117.50 805.96 119.30" fill="none" stroke="#27496f" stroke-width="1.65" stroke-linecap="round"/>
<path d="M839.78 100.90 C832.18 102.00 826.58 107.25 826.58 113.60 C826.58 119.95 832.18 125.90 839.78 126.30 C836.27 121.22 834.77 117.41 834.77 113.60 C834.77 109.16 836.27 105.34 839.78 100.90Z" fill="#fbfbfb" stroke="#000" stroke-width="1.65" stroke-linejoin="round"/><line x1="816.98" x2="853.98" y1="115.8" y2="115.8" stroke="#27496f" stroke-width="1.6"/><line x1="818.28" x2="852.68" y1="119.2" y2="119.2" stroke="#27496f" stroke-width="1.6"/><line x1="819.88" x2="851.08" y1="123.6" y2="123.6" stroke="#27496f" stroke-width="2.6"/>
<path d="M880.14 114.96L884.06 115.79M876.67 120.01L878.85 123.36M870.65 121.13L869.82 125.04M865.61 117.66L862.25 119.84M864.49 111.64L860.58 110.81M867.96 106.59L865.78 103.24M873.98 105.47L874.81 101.56M879.03 108.94L882.38 106.76" stroke="#dcbd2c" stroke-width="3.0" stroke-linecap="round" fill="none"/><path d="M880.14 114.96L884.06 115.79M876.67 120.01L878.85 123.36M870.65 121.13L869.82 125.04M865.61 117.66L862.25 119.84M864.49 111.64L860.58 110.81M867.96 106.59L865.78 103.24M873.98 105.47L874.81 101.56M879.03 108.94L882.38 106.76" stroke="#f6e71c" stroke-width="2.1" stroke-linecap="round" fill="none"/><circle cx="872.32" cy="113.30" r="6.3" fill="#f6e71c" stroke="#f4b223" stroke-width="0.9"/><path d="M855.08 127.04C853.98 126.10 854.10 126.34 853.48 124.50C852.85 122.66 852.90 123.27 853.20 121.52C853.51 119.77 853.20 120.39 854.39 119.25C855.58 118.11 855.10 118.46 856.78 118.11C858.46 117.76 858.55 118.17 859.43 118.20C859.82 117.44 859.51 117.33 860.58 115.92C861.65 114.52 861.16 114.85 862.64 114.00C864.12 113.15 863.32 113.39 865.03 113.39C866.74 113.39 866.28 113.15 867.78 114.00C869.27 114.85 868.75 114.67 869.52 115.92C870.28 117.18 869.88 117.15 870.07 117.76C870.92 117.94 871.21 117.59 872.63 118.29C874.06 118.99 873.57 118.55 874.33 119.86C875.09 121.17 874.94 120.59 874.93 122.22C874.91 123.86 875.05 123.30 874.28 124.76C873.52 126.22 874.10 125.78 872.63 126.60C871.17 127.42 872.18 126.98 869.88 127.21C867.59 127.45 868.45 127.42 865.76 127.30C863.07 127.18 864.11 126.86 861.82 126.86C859.53 126.86 860.57 127.15 858.88 127.30C857.20 127.45 858.04 127.39 856.78 127.30C855.51 127.21 856.18 127.97 855.08 127.04Z" fill="#d0d0d0" stroke="#2a62b8" stroke-width="1.65" stroke-linejoin="round"/><path d="M870.07 117.76 C868.42 117.94 866.77 119.08 865.94 120.65" fill="none" stroke="#2a62b8" stroke-width="1.65" stroke-linecap="round"/>
<path d="M911.68 115.56L916.18 116.52M908.21 120.61L910.72 124.47M902.19 121.73L901.23 126.22M897.14 118.26L893.29 120.76M896.03 112.24L891.53 111.28M899.50 107.19L896.99 103.33M905.52 106.07L906.47 101.58M910.56 109.54L914.42 107.04" stroke="#dcbd2c" stroke-width="3.0" stroke-linecap="round" fill="none"/><path d="M911.68 115.56L916.18 116.52M908.21 120.61L910.72 124.47M902.19 121.73L901.23 126.22M897.14 118.26L893.29 120.76M896.03 112.24L891.53 111.28M899.50 107.19L896.99 103.33M905.52 106.07L906.47 101.58M910.56 109.54L914.42 107.04" stroke="#f6e71c" stroke-width="2.1" stroke-linecap="round" fill="none"/><circle cx="903.85" cy="113.90" r="6.6" fill="#f6e71c" stroke="#f4b223" stroke-width="0.9"/>
<path d="M942.09 100.90 C934.29 102.00 928.49 107.25 928.49 113.60 C928.49 119.95 934.29 125.90 942.09 126.30 C938.42 121.22 936.92 117.41 936.92 113.60 C936.92 109.16 938.42 105.34 942.09 100.90Z" fill="#fbfbfb" stroke="#000" stroke-width="1.65" stroke-linejoin="round"/><path d="M935.71 125.88C934.85 125.09 934.94 125.29 934.45 123.74C933.96 122.19 933.99 122.71 934.23 121.23C934.47 119.76 934.23 120.27 935.17 119.31C936.11 118.36 935.72 118.65 937.04 118.36C938.37 118.06 938.44 118.41 939.14 118.43C939.44 117.79 939.20 117.69 940.04 116.51C940.88 115.33 940.49 115.60 941.66 114.89C942.82 114.18 942.19 114.37 943.53 114.37C944.88 114.37 944.52 114.18 945.69 114.89C946.87 115.60 946.46 115.46 947.06 116.51C947.66 117.57 947.35 117.55 947.50 118.06C948.17 118.21 948.40 117.91 949.52 118.50C950.63 119.09 950.25 118.72 950.85 119.83C951.45 120.94 951.33 120.45 951.32 121.82C951.31 123.20 951.41 122.73 950.81 123.96C950.21 125.19 950.67 124.82 949.52 125.51C948.36 126.20 949.15 125.83 947.35 126.03C945.55 126.22 946.22 126.20 944.11 126.10C941.99 126.00 942.81 125.73 941.01 125.73C939.21 125.73 940.02 125.98 938.70 126.10C937.38 126.22 938.04 126.17 937.04 126.10C936.05 126.03 936.58 126.67 935.71 125.88Z" fill="#d0d0d0" stroke="#27496f" stroke-width="1.6" stroke-linejoin="round"/><path d="M947.50 118.06 C946.20 118.21 944.90 119.17 944.25 120.50" fill="none" stroke="#27496f" stroke-width="1.6" stroke-linecap="round"/>
<path d="M977.93 100.90 C970.33 102.00 964.73 107.25 964.73 113.60 C964.73 119.95 970.33 125.90 977.93 126.30 C974.41 121.22 972.91 117.41 972.91 113.60 C972.91 109.16 974.41 105.34 977.93 100.90Z" fill="#fbfbfb" stroke="#000" stroke-width="1.65" stroke-linejoin="round"/><line x1="955.12" x2="992.12" y1="115.8" y2="115.8" stroke="#27496f" stroke-width="1.6"/><line x1="956.42" x2="990.83" y1="119.2" y2="119.2" stroke="#27496f" stroke-width="1.6"/><line x1="958.02" x2="989.23" y1="123.6" y2="123.6" stroke="#27496f" stroke-width="2.6"/>
<path d="M1000.64 112.04L996.72 111.21M1004.10 106.99L1001.93 103.64M1010.12 105.87L1010.96 101.96M1015.17 109.34L1018.52 107.16" stroke="#dcbd2c" stroke-width="3.0" stroke-linecap="round" fill="none"/><path d="M1000.64 112.04L996.72 111.21M1004.10 106.99L1001.93 103.64M1010.12 105.87L1010.96 101.96M1015.17 109.34L1018.52 107.16" stroke="#f6e71c" stroke-width="2.1" stroke-linecap="round" fill="none"/><circle cx="1008.46" cy="113.70" r="6.3" fill="#f6e71c" stroke="#f4b223" stroke-width="0.9"/><line x1="991.46" x2="1026.46" y1="117.1" y2="117.1" stroke="#4a78c2" stroke-width="1.7"/><line x1="991.96" x2="1025.96" y1="121.3" y2="121.3" stroke="#4a78c2" stroke-width="1.7"/><line x1="993.46" x2="1024.46" y1="125.8" y2="125.8" stroke="#4a78c2" stroke-width="2.7"/><line x1="1004.2" x2="1012.2" y1="119.3" y2="119.3" stroke="#f0c020" stroke-width="1.1"/>
<path d="M1052.82 114.96L1056.73 115.79M1049.35 120.01L1051.53 123.36M1043.33 121.13L1042.50 125.04M1038.29 117.66L1034.93 119.84M1037.17 111.64L1033.26 110.81M1040.64 106.59L1038.46 103.24M1046.66 105.47L1047.49 101.56M1051.71 108.94L1055.06 106.76" stroke="#dcbd2c" stroke-width="3.0" stroke-linecap="round" fill="none"/><path d="M1052.82 114.96L1056.73 115.79M1049.35 120.01L1051.53 123.36M1043.33 121.13L1042.50 125.04M1038.29 117.66L1034.93 119.84M1037.17 111.64L1033.26 110.81M1040.64 106.59L1038.46 103.24M1046.66 105.47L1047.49 101.56M1051.71 108.94L1055.06 106.76" stroke="#f6e71c" stroke-width="2.1" stroke-linecap="round" fill="none"/><circle cx="1045.00" cy="113.30" r="6.3" fill="#f6e71c" stroke="#f4b223" stroke-width="0.9"/><path d="M1027.76 127.04C1026.66 126.10 1026.78 126.34 1026.15 124.50C1025.53 122.66 1025.57 123.27 1025.88 121.52C1026.19 119.77 1025.88 120.39 1027.07 119.25C1028.26 118.11 1027.77 118.46 1029.45 118.11C1031.14 117.76 1031.23 118.17 1032.11 118.20C1032.50 117.44 1032.19 117.33 1033.26 115.92C1034.33 114.52 1033.84 114.85 1035.32 114.00C1036.80 113.15 1035.99 113.39 1037.70 113.39C1039.42 113.39 1038.96 113.15 1040.45 114.00C1041.95 114.85 1041.43 114.67 1042.20 115.92C1042.96 117.18 1042.56 117.15 1042.75 117.76C1043.60 117.94 1043.89 117.59 1045.31 118.29C1046.73 118.99 1046.25 118.55 1047.01 119.86C1047.77 121.17 1047.62 120.59 1047.60 122.22C1047.59 123.86 1047.73 123.30 1046.96 124.76C1046.20 126.22 1046.78 125.78 1045.31 126.60C1043.85 127.42 1044.85 126.98 1042.56 127.21C1040.27 127.45 1041.13 127.42 1038.44 127.30C1035.75 127.18 1036.79 126.86 1034.50 126.86C1032.20 126.86 1033.24 127.15 1031.56 127.30C1029.88 127.45 1030.72 127.39 1029.45 127.30C1028.19 127.21 1028.86 127.97 1027.76 127.04Z" fill="#d0d0d0" stroke="#2a62b8" stroke-width="1.65" stroke-linejoin="round"/><path d="M1042.75 117.76 C1041.10 117.94 1039.45 119.08 1038.62 120.65" fill="none" stroke="#2a62b8" stroke-width="1.65" stroke-linecap="round"/>
<path d="M1081.53 100.90 C1073.93 102.00 1068.33 107.25 1068.33 113.60 C1068.33 119.95 1073.93 125.90 1081.53 126.30 C1078.02 121.22 1076.52 117.41 1076.52 113.60 C1076.52 109.16 1078.02 105.34 1081.53 100.90Z" fill="#fbfbfb" stroke="#000" stroke-width="1.65" stroke-linejoin="round"/><line x1="1058.73" x2="1095.73" y1="115.8" y2="115.8" stroke="#27496f" stroke-width="1.6"/><line x1="1060.03" x2="1094.43" y1="119.2" y2="119.2" stroke="#27496f" stroke-width="1.6"/><line x1="1061.63" x2="1092.83" y1="123.6" y2="123.6" stroke="#27496f" stroke-width="2.6"/></g>
<g id="wind"><path d="M115.6 157.3L139.4 149.5M120.1 155.8L117.0 151.5M132.5 155.8L157.0 151.0M137.1 154.9L134.6 150.3M150.3 157.8L173.7 149.0M154.7 156.1L151.5 152.0M169.2 160.7L189.4 146.1M173.0 158.0L168.8 154.9M186.2 160.4L206.9 146.4M186.2 160.4L178.0 153.8M202.5 158.6L225.2 148.2M206.7 156.7L203.2 152.8M218.6 154.1L243.6 152.7M223.3 153.8L221.5 148.9M466.4 164.1L479.3 142.7M468.8 160.1L463.7 158.9M484.7 164.7L495.5 142.1M486.7 160.4L481.6 159.7M496.1 158.8L518.7 148.0M500.3 156.8L496.8 152.9M512.9 157.6L536.4 149.2M517.3 156.0L514.1 151.9M529.5 154.7L554.4 152.1M534.2 154.2L532.1 149.4M547.4 157.6L571.0 149.2M551.8 156.0L548.7 151.9M565.0 158.5L587.9 148.3M569.3 156.6L565.9 152.6M584.6 161.9L602.9 144.9M588.0 158.7L583.5 156.1M602.8 162.8L619.2 144.0M605.9 159.3L601.1 157.2M619.4 162.2L637.2 144.6M622.7 158.9L618.1 156.4M635.7 161.1L655.4 145.7M639.4 158.2L635.1 155.2M655.1 163.2L670.5 143.6M658.0 159.5L653.1 157.7M694.8 141.2L699.9 165.6M695.8 145.7L700.3 143.2M715.2 140.9L714.0 165.9M715.0 145.6L720.1 144.3M722.5 145.1L741.2 161.7M726.0 148.2L728.2 143.4M738.1 159.2L760.2 147.6M742.2 157.0L738.5 153.3M766.6 165.9L766.2 140.9M766.5 161.2L761.6 162.9" fill="none" stroke="#000" stroke-width="1.65" stroke-linecap="round" stroke-linejoin="round"/>
<g fill="none" stroke="#000" stroke-width="1.85"><circle cx="248.4" cy="153.4" r="3.65"/><circle cx="265.6" cy="153.4" r="3.65"/><circle cx="282.9" cy="153.4" r="3.65"/><circle cx="300.2" cy="153.4" r="3.65"/><circle cx="317.4" cy="153.4" r="3.65"/><circle cx="334.7" cy="153.4" r="3.65"/><circle cx="352.0" cy="153.4" r="3.65"/><circle cx="369.2" cy="153.4" r="3.65"/><circle cx="386.5" cy="153.4" r="3.65"/><circle cx="403.8" cy="153.4" r="3.65"/><circle cx="421.1" cy="153.4" r="3.65"/><circle cx="438.3" cy="153.4" r="3.65"/><circle cx="455.6" cy="153.4" r="3.65"/><circle cx="680.1" cy="153.4" r="3.65"/><circle cx="783.7" cy="153.4" r="3.65"/><circle cx="800.9" cy="153.4" r="3.65"/><circle cx="818.2" cy="153.4" r="3.65"/><circle cx="835.5" cy="153.4" r="3.65"/><circle cx="852.8" cy="153.4" r="3.65"/><circle cx="870.0" cy="153.4" r="3.65"/><circle cx="887.3" cy="153.4" r="3.65"/><circle cx="904.6" cy="153.4" r="3.65"/><circle cx="921.8" cy="153.4" r="3.65"/><circle cx="939.1" cy="153.4" r="3.65"/><circle cx="956.4" cy="153.4" r="3.65"/><circle cx="973.6" cy="153.4" r="3.65"/><circle cx="990.9" cy="153.4" r="3.65"/><circle cx="1008.2" cy="153.4" r="3.65"/><circle cx="1025.4" cy="153.4" r="3.65"/><circle cx="1042.7" cy="153.4" r="3.65"/><circle cx="1060.0" cy="153.4" r="3.65"/><circle cx="1077.2" cy="153.4" r="3.65"/><circle cx="1094.5" cy="153.4" r="3.65"/></g></g>
<text x="196.4" y="68.6" text-anchor="middle" fill="#000" stroke="#000" stroke-width="0.36" stroke-linejoin="round" style="font-family:'DejaVu Sans','Liberation Sans',sans-serif;font-size:17.6px">četrtek</text>
<text x="196.4" y="89.6" text-anchor="middle" fill="#000" stroke="#000" stroke-width="0.36" stroke-linejoin="round" style="font-family:'DejaVu Sans','Liberation Sans',sans-serif;font-size:17.6px">30.10</text>
<text x="334.6" y="68.6" text-anchor="middle" fill="#000" stroke="#000" stroke-width="0.36" stroke-linejoin="round" style="font-family:'DejaVu Sans','Liberation Sans',sans-serif;font-size:17.6px">petek</text>
<text x="334.6" y="89.6" text-anchor="middle" fill="#000" stroke="#000" stroke-width="0.36" stroke-linejoin="round" style="font-family:'DejaVu Sans','Liberation Sans',sans-serif;font-size:17.6px">31.10</text>
<text x="472.7" y="68.6" text-anchor="middle" fill="#cc0000" stroke="#cc0000" stroke-width="0.36" stroke-linejoin="round" style="font-family:'DejaVu Sans','Liberation Sans',sans-serif;font-size:17.6px">sobota</text>
<text x="472.7" y="89.6" text-anchor="middle" fill="#cc0000" stroke="#cc0000" stroke-width="0.36" stroke-linejoin="round" style="font-family:'DejaVu Sans','Liberation Sans',sans-serif;font-size:17.6px">01.11</text>
<text x="610.9" y="68.6" text-anchor="middle" fill="#cc0000" stroke="#cc0000" stroke-width="0.36" stroke-linejoin="round" style="font-family:'DejaVu Sans','Liberation Sans',sans-serif;font-size:17.6px">nedelja</text>
<text x="610.9" y="89.6" text-anchor="middle" fill="#cc0000" stroke="#cc0000" stroke-width="0.36" stroke-linejoin="round" style="font-family:'DejaVu Sans','Liberation Sans',sans-serif;font-size:17.6px">02.11</text>
<text x="749.1" y="68.6" text-anchor="middle" fill="#000" stroke="#000" stroke-width="0.36" stroke-linejoin="round" style="font-family:'DejaVu Sans','Liberation Sans',sans-serif;font-size:17.6px">ponedeljek</text>
<text x="749.1" y="89.6" text-anchor="middle" fill="#000" stroke="#000" stroke-width="0.36" stroke-linejoin="round" style="font-family:'DejaVu Sans','Liberation Sans',sans-serif;font-size:17.6px">03.11</text>
<text x="887.3" y="68.6" text-anchor="middle" fill="#000" stroke="#000" stroke-width="0.36" stroke-linejoin="round" style="font-family:'DejaVu Sans','Liberation Sans',sans-serif;font-size:17.6px">torek</text>
<text x="887.3" y="89.6" text-anchor="middle" fill="#000" stroke="#000" stroke-width="0.36" stroke-linejoin="round" style="font-family:'DejaVu Sans','Liberation Sans',sans-serif;font-size:17.6px">04.11</text>
<text x="1025.5" y="68.6" text-anchor="middle" fill="#000" stroke="#000" stroke-width="0.36" stroke-linejoin="round" style="font-family:'DejaVu Sans','Liberation Sans',sans-serif;font-size:17.6px">sreda</text>
<text x="1025.5" y="89.6" text-anchor="middle" fill="#000" stroke="#000" stroke-width="0.36" stroke-linejoin="round" style="font-family:'DejaVu Sans','Liberation Sans',sans-serif;font-size:17.6px">05.11</text>
<text x="161.5" y="376.6" text-anchor="middle" fill="#000" stroke="#000" stroke-width="0.36" stroke-linejoin="round" letter-spacing="-0.35" style="font-family:'DejaVu Sans','Liberation Sans',sans-serif;font-size:17.6px">06</text>
<text x="196.1" y="376.6" text-anchor="middle" fill="#000" stroke="#000" stroke-width="0.36" stroke-linejoin="round" letter-spacing="-0.35" style="font-family:'DejaVu Sans','Liberation Sans',sans-serif;font-size:17.6px">12</text>
<text x="230.6" y="376.6" text-anchor="middle" fill="#000" stroke="#000" stroke-width="0.36" stroke-linejoin="round" letter-spacing="-0.35" style="font-family:'DejaVu Sans','Liberation Sans',sans-serif;font-size:17.6px">18</text>
<text x="299.7" y="376.6" text-anchor="middle" fill="#000" stroke="#000" stroke-width="0.36" stroke-linejoin="round" letter-spacing="-0.35" style="font-family:'DejaVu Sans','Liberation Sans',sans-serif;font-size:17.6px">06</text>
<text x="334.2" y="376.6" text-anchor="middle" fill="#000" stroke="#000" stroke-width="0.36" stroke-linejoin="round" letter-spacing="-0.35" style="font-family:'DejaVu Sans','Liberation Sans',sans-serif;font-size:17.6px">12</text>
<text x="368.8" y="376.6" text-anchor="middle" fill="#000" stroke="#000" stroke-width="0.36" stroke-linejoin="round" letter-spacing="-0.35" style="font-family:'DejaVu Sans','Liberation Sans',sans-serif;font-size:17.6px">18</text>
<text x="437.8" y="376.6" text-anchor="middle" fill="#000" stroke="#000" stroke-width="0.36" stroke-linejoin="round" letter-spacing="-0.35" style="font-family:'DejaVu Sans','Liberation Sans',sans-serif;font-size:17.6px">06</text>
<text x="472.4" y="376.6" text-anchor="middle" fill="#000" stroke="#000" stroke-width="0.36" stroke-linejoin="round" letter-spacing="-0.35" style="font-family:'DejaVu Sans','Liberation Sans',sans-serif;font-size:17.6px">12</text>
<text x="506.9" y="376.6" text-anchor="middle" fill="#000" stroke="#000" stroke-width="0.36" stroke-linejoin="round" letter-spacing="-0.35" style="font-family:'DejaVu Sans','Liberation Sans',sans-serif;font-size:17.6px">18</text>
<text x="576.0" y="376.6" text-anchor="middle" fill="#000" stroke="#000" stroke-width="0.36" stroke-linejoin="round" letter-spacing="-0.35" style="font-family:'DejaVu Sans','Liberation Sans',sans-serif;font-size:17.6px">06</text>
<text x="610.5" y="376.6" text-anchor="middle" fill="#000" stroke="#000" stroke-width="0.36" stroke-linejoin="round" letter-spacing="-0.35" style="font-family:'DejaVu Sans','Liberation Sans',sans-serif;font-size:17.6px">12</text>
<text x="645.0" y="376.6" text-anchor="middle" fill="#000" stroke="#000" stroke-width="0.36" stroke-linejoin="round" letter-spacing="-0.35" style="font-family:'DejaVu Sans','Liberation Sans',sans-serif;font-size:17.6px">18</text>
<text x="714.1" y="376.6" text-anchor="middle" fill="#000" stroke="#000" stroke-width="0.36" stroke-linejoin="round" letter-spacing="-0.35" style="font-family:'DejaVu Sans','Liberation Sans',sans-serif;font-size:17.6px">06</text>
<text x="748.6" y="376.6" text-anchor="middle" fill="#000" stroke="#000" stroke-width="0.36" stroke-linejoin="round" letter-spacing="-0.35" style="font-family:'DejaVu Sans','Liberation Sans',sans-serif;font-size:17.6px">12</text>
<text x="783.2" y="376.6" text-anchor="middle" fill="#000" stroke="#000" stroke-width="0.36" stroke-linejoin="round" letter-spacing="-0.35" style="font-family:'DejaVu Sans','Liberation Sans',sans-serif;font-size:17.6px">18</text>
<text x="852.2" y="376.6" text-anchor="middle" fill="#000" stroke="#000" stroke-width="0.36" stroke-linejoin="round" letter-spacing="-0.35" style="font-family:'DejaVu Sans','Liberation Sans',sans-serif;font-size:17.6px">06</text>
<text x="886.8" y="376.6" text-anchor="middle" fill="#000" stroke="#000" stroke-width="0.36" stroke-linejoin="round" letter-spacing="-0.35" style="font-family:'DejaVu Sans','Liberation Sans',sans-serif;font-size:17.6px">12</text>
<text x="921.3" y="376.6" text-anchor="middle" fill="#000" stroke="#000" stroke-width="0.36" stroke-linejoin="round" letter-spacing="-0.35" style="font-family:'DejaVu Sans','Liberation Sans',sans-serif;font-size:17.6px">18</text>
<text x="990.4" y="376.6" text-anchor="middle" fill="#000" stroke="#000" stroke-width="0.36" stroke-linejoin="round" letter-spacing="-0.35" style="font-family:'DejaVu Sans','Liberation Sans',sans-serif;font-size:17.6px">06</text>
<text x="1024.9" y="376.6" text-anchor="middle" fill="#000" stroke="#000" stroke-width="0.36" stroke-linejoin="round" letter-spacing="-0.35" style="font-family:'DejaVu Sans','Liberation Sans',sans-serif;font-size:17.6px">12</text>
<text x="1059.5" y="376.6" text-anchor="middle" fill="#000" stroke="#000" stroke-width="0.36" stroke-linejoin="round" letter-spacing="-0.35" style="font-family:'DejaVu Sans','Liberation Sans',sans-serif;font-size:17.6px">18</text>
<text x="265.3" y="376.6" text-anchor="middle" fill="#000" stroke="#000" stroke-width="0.36" stroke-linejoin="round" style="font-family:'DejaVu Sans','Liberation Sans',sans-serif;font-size:17.6px">pet</text>
<text x="403.5" y="376.6" text-anchor="middle" fill="#000" stroke="#000" stroke-width="0.36" stroke-linejoin="round" style="font-family:'DejaVu Sans','Liberation Sans',sans-serif;font-size:17.6px">sob</text>
<text x="541.6" y="376.6" text-anchor="middle" fill="#000" stroke="#000" stroke-width="0.36" stroke-linejoin="round" style="font-family:'DejaVu Sans','Liberation Sans',sans-serif;font-size:17.6px">ned</text>
<text x="679.8" y="376.6" text-anchor="middle" fill="#000" stroke="#000" stroke-width="0.36" stroke-linejoin="round" style="font-family:'DejaVu Sans','Liberation Sans',sans-serif;font-size:17.6px">pon</text>
<text x="817.9" y="376.6" text-anchor="middle" fill="#000" stroke="#000" stroke-width="0.36" stroke-linejoin="round" style="font-family:'DejaVu Sans','Liberation Sans',sans-serif;font-size:17.6px">tor</text>
<text x="956.1" y="376.6" text-anchor="middle" fill="#000" stroke="#000" stroke-width="0.36" stroke-linejoin="round" style="font-family:'DejaVu Sans','Liberation Sans',sans-serif;font-size:17.6px">sre</text>
<text x="123.2" y="179.0" text-anchor="end" fill="#000" stroke="#000" stroke-width="0.36" stroke-linejoin="round" style="font-family:'DejaVu Sans','Liberation Sans',sans-serif;font-size:17.6px">5</text>
<text x="123.2" y="215.0" text-anchor="end" fill="#000" stroke="#000" stroke-width="0.36" stroke-linejoin="round" style="font-family:'DejaVu Sans','Liberation Sans',sans-serif;font-size:17.6px">4</text>
<text x="123.2" y="253.0" text-anchor="end" fill="#000" stroke="#000" stroke-width="0.36" stroke-linejoin="round" style="font-family:'DejaVu Sans','Liberation Sans',sans-serif;font-size:17.6px">3</text>
<text x="123.2" y="290.4" text-anchor="end" fill="#000" stroke="#000" stroke-width="0.36" stroke-linejoin="round" style="font-family:'DejaVu Sans','Liberation Sans',sans-serif;font-size:17.6px">2</text>
<text x="123.2" y="327.0" text-anchor="end" fill="#000" stroke="#000" stroke-width="0.36" stroke-linejoin="round" style="font-family:'DejaVu Sans','Liberation Sans',sans-serif;font-size:17.6px">1</text>
<text x="123.2" y="366.0" text-anchor="end" fill="#000" stroke="#000" stroke-width="0.36" stroke-linejoin="round" style="font-family:'DejaVu Sans','Liberation Sans',sans-serif;font-size:17.6px">0</text>
<text x="45.8" y="179.0" fill="#ff0000" stroke="#ff0000" stroke-width="0.36" stroke-linejoin="round" letter-spacing="-0.2" style="font-family:'DejaVu Sans','Liberation Sans',sans-serif;font-size:17.6px">26</text>
<text x="45.8" y="215.0" fill="#ff0000" stroke="#ff0000" stroke-width="0.36" stroke-linejoin="round" letter-spacing="-0.2" style="font-family:'DejaVu Sans','Liberation Sans',sans-serif;font-size:17.6px">21</text>
<text x="45.8" y="253.0" fill="#ff0000" stroke="#ff0000" stroke-width="0.36" stroke-linejoin="round" letter-spacing="-0.2" style="font-family:'DejaVu Sans','Liberation Sans',sans-serif;font-size:17.6px">16</text>
<text x="45.8" y="290.4" fill="#ff0000" stroke="#ff0000" stroke-width="0.36" stroke-linejoin="round" letter-spacing="-0.2" style="font-family:'DejaVu Sans','Liberation Sans',sans-serif;font-size:17.6px">10</text>
<text x="45.8" y="327.0" fill="#ff0000" stroke="#ff0000" stroke-width="0.36" stroke-linejoin="round" letter-spacing="-0.2" style="font-family:'DejaVu Sans','Liberation Sans',sans-serif;font-size:17.6px">5</text>
<text x="45.8" y="366.0" fill="#ff0000" stroke="#ff0000" stroke-width="0.36" stroke-linejoin="round" letter-spacing="-0.2" style="font-family:'DejaVu Sans','Liberation Sans',sans-serif;font-size:17.6px">0</text>
<text x="1098.6" y="179.0" fill="#000" stroke="#000" stroke-width="0.36" stroke-linejoin="round" letter-spacing="-0.45" style="font-family:'DejaVu Sans','Liberation Sans',sans-serif;font-size:17.6px">14</text>
<text x="1098.6" y="215.0" fill="#000" stroke="#000" stroke-width="0.36" stroke-linejoin="round" letter-spacing="-0.45" style="font-family:'DejaVu Sans','Liberation Sans',sans-serif;font-size:17.6px">9.0</text>
<text x="1098.6" y="253.0" fill="#000" stroke="#000" stroke-width="0.36" stroke-linejoin="round" letter-spacing="-0.45" style="font-family:'DejaVu Sans','Liberation Sans',sans-serif;font-size:17.6px">6.0</text>
<text x="1098.6" y="290.4" fill="#000" stroke="#000" stroke-width="0.36" stroke-linejoin="round" letter-spacing="-0.45" style="font-family:'DejaVu Sans','Liberation Sans',sans-serif;font-size:17.6px">3.5</text>
<text x="1098.6" y="327.0" fill="#000" stroke="#000" stroke-width="0.36" stroke-linejoin="round" letter-spacing="-0.45" style="font-family:'DejaVu Sans','Liberation Sans',sans-serif;font-size:17.6px">1.5</text>
<text x="1098.6" y="366.0" fill="#000" stroke="#000" stroke-width="0.36" stroke-linejoin="round" letter-spacing="-0.45" style="font-family:'DejaVu Sans','Liberation Sans',sans-serif;font-size:17.6px">0</text>
<text transform="translate(35.6,266) rotate(-90) scale(0.93,1)" text-anchor="middle" fill="#ff0000" stroke="#ff0000" stroke-width="0.36" style="font-family:'DejaVu Sans','Liberation Sans',sans-serif;font-size:20.4px">Temperatura (°C)</text>
<text transform="translate(100.4,263.4) rotate(-90) scale(0.948,1)" text-anchor="middle" fill="#000" stroke="#000" stroke-width="0.36" style="font-family:'DejaVu Sans','Liberation Sans',sans-serif;font-size:20.4px">Padavine (mm/h)</text>
<text transform="translate(1144.8,253.6) rotate(-90) scale(0.955,1)" text-anchor="middle" fill="#000" stroke="#000" stroke-width="0.36" style="font-family:'DejaVu Sans','Liberation Sans',sans-serif;font-size:20.4px">Višina oblakov (km)</text>
<rect x="127" y="390" width="32" height="11" fill="#0050ff"/>
<rect x="165" y="386.3" width="105" height="19.4" fill="#fff"/>
<text x="168.6" y="402" fill="#000" stroke="#000" stroke-width="0.36" stroke-linejoin="round" style="font-family:'DejaVu Sans','Liberation Sans',sans-serif;font-size:18.2px">Dež</text>
<rect x="278" y="390" width="32" height="11" fill="#12dcc8"/>
<rect x="310" y="386.3" width="110" height="19.4" fill="#fff"/>
<text x="318.6" y="402" fill="#000" stroke="#000" stroke-width="0.36" stroke-linejoin="round" letter-spacing="-0.36" style="font-family:'DejaVu Sans','Liberation Sans',sans-serif;font-size:18.2px">Možnost ploh</text>
<rect x="760" y="386.3" width="180" height="19.4" fill="#fff"/>
<text x="759.4" y="402" fill="#000" stroke="#000" stroke-width="0.36" stroke-linejoin="round" letter-spacing="-0.45" style="font-family:'DejaVu Sans','Liberation Sans',sans-serif;font-size:18.2px">Gostota oblakov (%)</text>
<rect x="949.20" y="385.7" width="29.3" height="12.6" fill="#d2d2d2"/>
<rect x="978.15" y="385.7" width="29.3" height="12.6" fill="#b1b1b1"/>
<rect x="1007.10" y="385.7" width="29.3" height="12.6" fill="#919191"/>
<rect x="1036.05" y="385.7" width="29.3" height="12.6" fill="#727272"/>
<rect x="1065.00" y="385.7" width="29.3" height="12.6" fill="#565656"/>
<rect x="949.5" y="385.6" width="145.1" height="12.9" fill="none" stroke="#1a1a1a" stroke-width="1.05"/>
<text x="949.7" y="414.6" text-anchor="middle" fill="#000" stroke="#000" stroke-width="0.36" stroke-linejoin="round" letter-spacing="-0.3" style="font-family:'DejaVu Sans','Liberation Sans',sans-serif;font-size:15.3px">10</text>
<text x="978.7" y="414.6" text-anchor="middle" fill="#000" stroke="#000" stroke-width="0.36" stroke-linejoin="round" letter-spacing="-0.3" style="font-family:'DejaVu Sans','Liberation Sans',sans-serif;font-size:15.3px">25</text>
<text x="1007.7" y="414.6" text-anchor="middle" fill="#000" stroke="#000" stroke-width="0.36" stroke-linejoin="round" letter-spacing="-0.3" style="font-family:'DejaVu Sans','Liberation Sans',sans-serif;font-size:15.3px">50</text>
<text x="1036.7" y="414.6" text-anchor="middle" fill="#000" stroke="#000" stroke-width="0.36" stroke-linejoin="round" letter-spacing="-0.3" style="font-family:'DejaVu Sans','Liberation Sans',sans-serif;font-size:15.3px">75</text>
<text x="1065.7" y="414.6" text-anchor="middle" fill="#000" stroke="#000" stroke-width="0.36" stroke-linejoin="round" letter-spacing="-0.3" style="font-family:'DejaVu Sans','Liberation Sans',sans-serif;font-size:15.3px">90</text>
<text x="1094.7" y="414.6" text-anchor="middle" fill="#000" stroke="#000" stroke-width="0.36" stroke-linejoin="round" letter-spacing="-0.3" style="font-family:'DejaVu Sans','Liberation Sans',sans-serif;font-size:15.3px">100</text>
</svg>
<div class="h" style="left:10px;top:9px;font-size:16px">(kraj lahko izberete v meniju)</div>
<div class="h" style="left:400px;top:18.1px;font-size:23.7px;-webkit-text-stroke:0.3px #0000ff">Zagreb 7 dni</div>
<div class="h" style="left:861px;top:9px;font-size:16px;letter-spacing:-0.035px">Zadnja posodobitev: 30.10.2025 - 22:09</div>
<div class="h" style="left:500.2px;top:389px;font-size:15.75px">© vreme.us &amp; vreme.pro</div>
</body></html>
